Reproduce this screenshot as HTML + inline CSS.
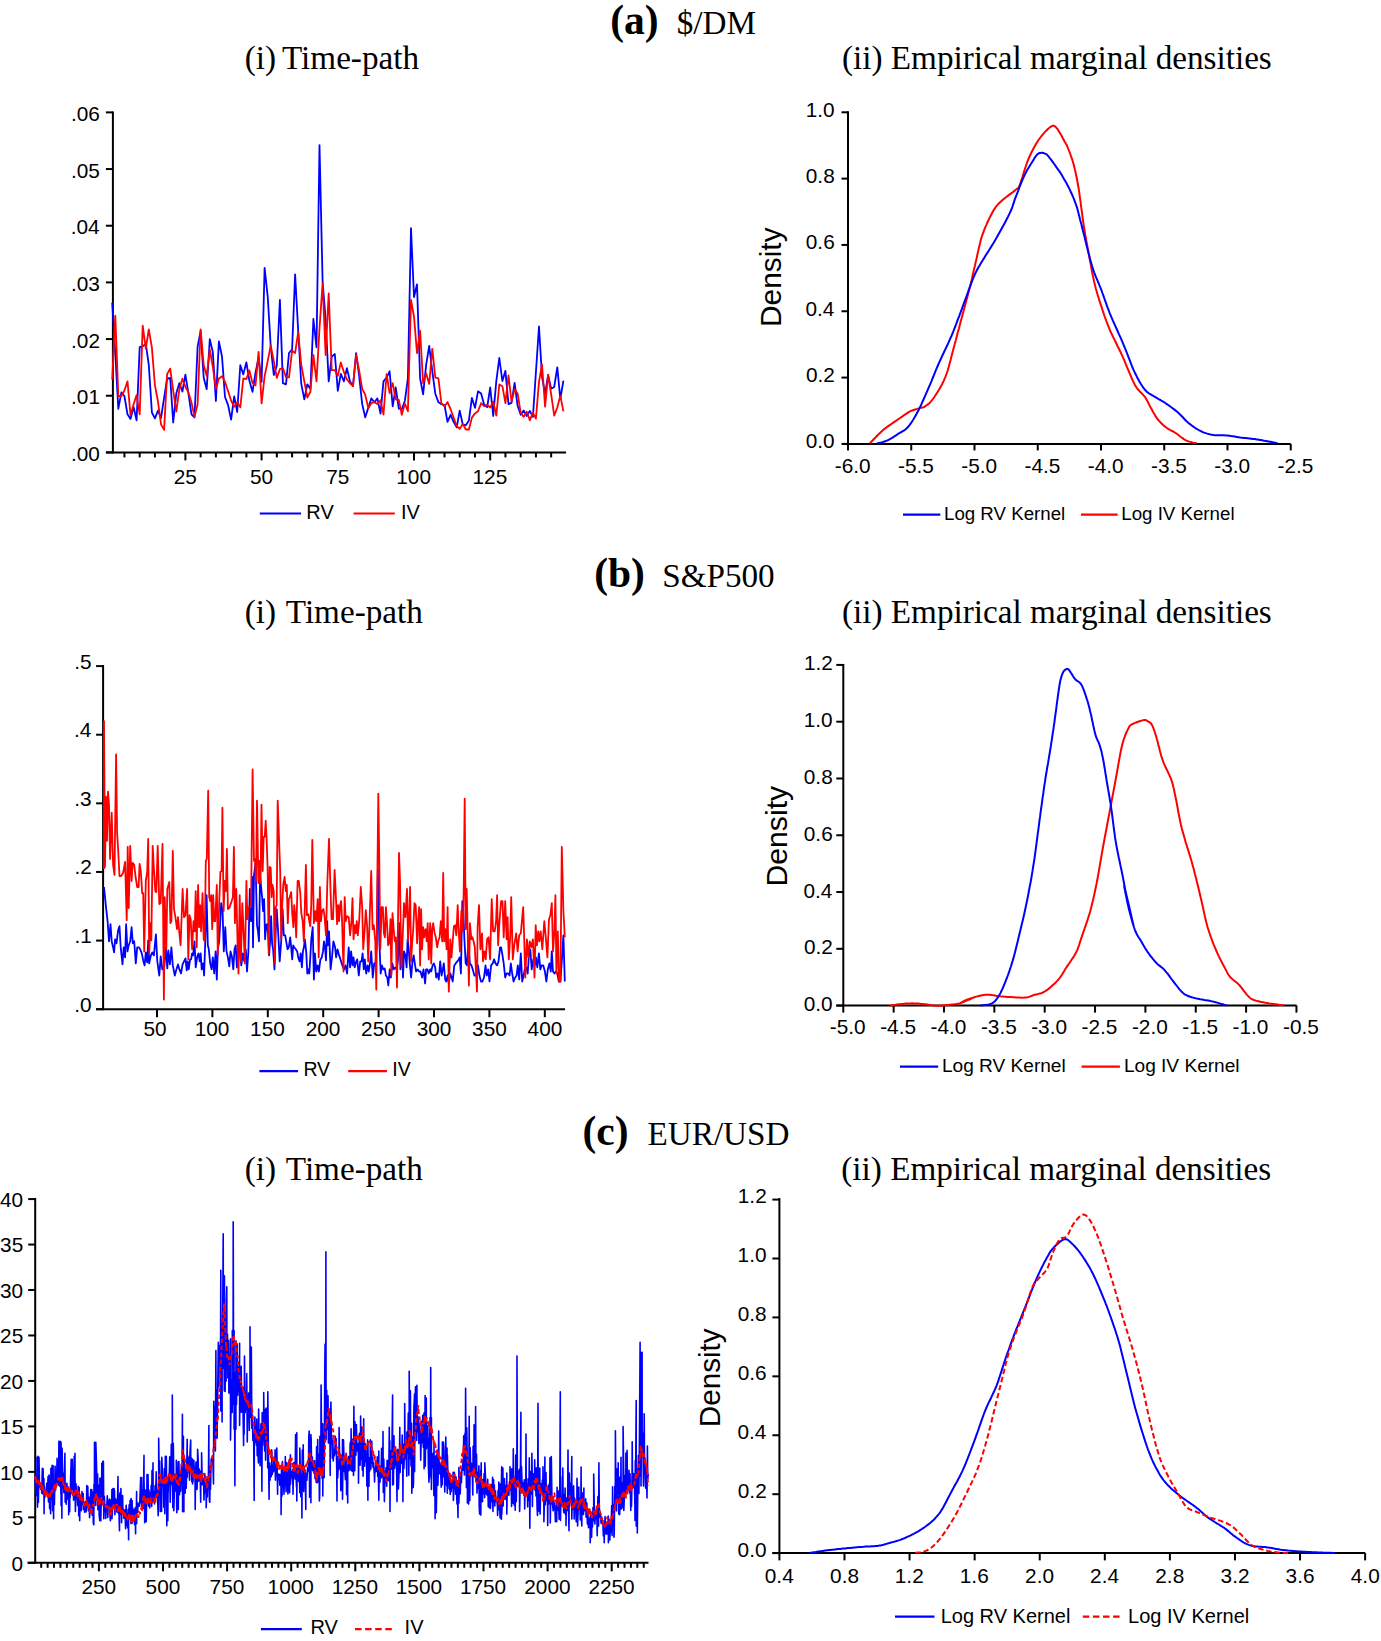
<!DOCTYPE html>
<html><head><meta charset="utf-8"><style>
html,body{margin:0;padding:0;background:#fff;width:1381px;height:1641px;overflow:hidden}
svg{display:block}
</style></head><body>
<svg width="1381" height="1641" viewBox="0 0 1381 1641">
<rect width="1381" height="1641" fill="#fff"/>
<text x="610.2" y="34.0" font-family="'Liberation Serif', serif" font-size="41.5" text-anchor="start" font-weight="bold" >(a)</text>
<text x="676.7" y="34.0" font-family="'Liberation Serif', serif" font-size="33.2" text-anchor="start" font-weight="normal" >$/DM</text>
<text x="594.2" y="587.4" font-family="'Liberation Serif', serif" font-size="41.5" text-anchor="start" font-weight="bold" >(b)</text>
<text x="662.2" y="587.4" font-family="'Liberation Serif', serif" font-size="33.2" text-anchor="start" font-weight="normal" >S&amp;P500</text>
<text x="582.5" y="1145.0" font-family="'Liberation Serif', serif" font-size="41.5" text-anchor="start" font-weight="bold" >(c)</text>
<text x="647.5" y="1145.0" font-family="'Liberation Serif', serif" font-size="33.2" text-anchor="start" font-weight="normal" >EUR/USD</text>
<text x="244.7" y="68.8" font-family="'Liberation Serif', serif" font-size="33.2" text-anchor="start" font-weight="normal" >(i)</text>
<text x="282.0" y="68.8" font-family="'Liberation Serif', serif" font-size="33.2" text-anchor="start" font-weight="normal" >Time-path</text>
<text x="244.7" y="622.7" font-family="'Liberation Serif', serif" font-size="33.2" text-anchor="start" font-weight="normal" >(i)</text>
<text x="285.8" y="622.7" font-family="'Liberation Serif', serif" font-size="33.2" text-anchor="start" font-weight="normal" >Time-path</text>
<text x="244.7" y="1180.3" font-family="'Liberation Serif', serif" font-size="33.2" text-anchor="start" font-weight="normal" >(i)</text>
<text x="285.8" y="1180.3" font-family="'Liberation Serif', serif" font-size="33.2" text-anchor="start" font-weight="normal" >Time-path</text>
<text x="842.0" y="68.8" font-family="'Liberation Serif', serif" font-size="33.2" text-anchor="start" font-weight="normal" >(ii) Empirical marginal densities</text>
<text x="842.0" y="622.5" font-family="'Liberation Serif', serif" font-size="33.2" text-anchor="start" font-weight="normal" >(ii) Empirical marginal densities</text>
<text x="841.3" y="1180.3" font-family="'Liberation Serif', serif" font-size="33.2" text-anchor="start" font-weight="normal" >(ii) Empirical marginal densities</text>
<line x1="112.90" y1="111.40" x2="112.90" y2="453.40" stroke="#000" stroke-width="2" />
<line x1="106.00" y1="452.40" x2="566.00" y2="452.40" stroke="#000" stroke-width="2" />
<line x1="105.90" y1="452.40" x2="112.90" y2="452.40" stroke="#000" stroke-width="2" />
<text x="70.9" y="460.9" font-family="'Liberation Sans', sans-serif" font-size="20.8" text-anchor="start" font-weight="normal" >.00</text>
<line x1="105.90" y1="395.73" x2="112.90" y2="395.73" stroke="#000" stroke-width="2" />
<text x="71.1" y="404.2" font-family="'Liberation Sans', sans-serif" font-size="20.8" text-anchor="start" font-weight="normal" >.01</text>
<line x1="105.90" y1="339.06" x2="112.90" y2="339.06" stroke="#000" stroke-width="2" />
<text x="71.1" y="347.6" font-family="'Liberation Sans', sans-serif" font-size="20.8" text-anchor="start" font-weight="normal" >.02</text>
<line x1="105.90" y1="282.39" x2="112.90" y2="282.39" stroke="#000" stroke-width="2" />
<text x="71.0" y="290.9" font-family="'Liberation Sans', sans-serif" font-size="20.8" text-anchor="start" font-weight="normal" >.03</text>
<line x1="105.90" y1="225.72" x2="112.90" y2="225.72" stroke="#000" stroke-width="2" />
<text x="70.7" y="234.2" font-family="'Liberation Sans', sans-serif" font-size="20.8" text-anchor="start" font-weight="normal" >.04</text>
<line x1="105.90" y1="169.05" x2="112.90" y2="169.05" stroke="#000" stroke-width="2" />
<text x="71.0" y="177.5" font-family="'Liberation Sans', sans-serif" font-size="20.8" text-anchor="start" font-weight="normal" >.05</text>
<line x1="105.90" y1="112.38" x2="112.90" y2="112.38" stroke="#000" stroke-width="2" />
<text x="71.0" y="120.9" font-family="'Liberation Sans', sans-serif" font-size="20.8" text-anchor="start" font-weight="normal" >.06</text>
<line x1="124.44" y1="452.40" x2="124.44" y2="457.40" stroke="#000" stroke-width="2" />
<line x1="139.68" y1="452.40" x2="139.68" y2="457.40" stroke="#000" stroke-width="2" />
<line x1="154.92" y1="452.40" x2="154.92" y2="457.40" stroke="#000" stroke-width="2" />
<line x1="170.16" y1="452.40" x2="170.16" y2="457.40" stroke="#000" stroke-width="2" />
<line x1="200.64" y1="452.40" x2="200.64" y2="457.40" stroke="#000" stroke-width="2" />
<line x1="215.88" y1="452.40" x2="215.88" y2="457.40" stroke="#000" stroke-width="2" />
<line x1="231.12" y1="452.40" x2="231.12" y2="457.40" stroke="#000" stroke-width="2" />
<line x1="246.36" y1="452.40" x2="246.36" y2="457.40" stroke="#000" stroke-width="2" />
<line x1="276.84" y1="452.40" x2="276.84" y2="457.40" stroke="#000" stroke-width="2" />
<line x1="292.08" y1="452.40" x2="292.08" y2="457.40" stroke="#000" stroke-width="2" />
<line x1="307.32" y1="452.40" x2="307.32" y2="457.40" stroke="#000" stroke-width="2" />
<line x1="322.56" y1="452.40" x2="322.56" y2="457.40" stroke="#000" stroke-width="2" />
<line x1="353.04" y1="452.40" x2="353.04" y2="457.40" stroke="#000" stroke-width="2" />
<line x1="368.28" y1="452.40" x2="368.28" y2="457.40" stroke="#000" stroke-width="2" />
<line x1="383.52" y1="452.40" x2="383.52" y2="457.40" stroke="#000" stroke-width="2" />
<line x1="398.76" y1="452.40" x2="398.76" y2="457.40" stroke="#000" stroke-width="2" />
<line x1="429.24" y1="452.40" x2="429.24" y2="457.40" stroke="#000" stroke-width="2" />
<line x1="444.48" y1="452.40" x2="444.48" y2="457.40" stroke="#000" stroke-width="2" />
<line x1="459.72" y1="452.40" x2="459.72" y2="457.40" stroke="#000" stroke-width="2" />
<line x1="474.96" y1="452.40" x2="474.96" y2="457.40" stroke="#000" stroke-width="2" />
<line x1="505.44" y1="452.40" x2="505.44" y2="457.40" stroke="#000" stroke-width="2" />
<line x1="520.68" y1="452.40" x2="520.68" y2="457.40" stroke="#000" stroke-width="2" />
<line x1="535.92" y1="452.40" x2="535.92" y2="457.40" stroke="#000" stroke-width="2" />
<line x1="551.16" y1="452.40" x2="551.16" y2="457.40" stroke="#000" stroke-width="2" />
<line x1="185.40" y1="452.40" x2="185.40" y2="460.40" stroke="#000" stroke-width="2" />
<text x="173.8" y="484.1" font-family="'Liberation Sans', sans-serif" font-size="20.8" text-anchor="start" font-weight="normal" >25</text>
<line x1="261.60" y1="452.40" x2="261.60" y2="460.40" stroke="#000" stroke-width="2" />
<text x="250.0" y="484.1" font-family="'Liberation Sans', sans-serif" font-size="20.8" text-anchor="start" font-weight="normal" >50</text>
<line x1="337.80" y1="452.40" x2="337.80" y2="460.40" stroke="#000" stroke-width="2" />
<text x="326.2" y="484.1" font-family="'Liberation Sans', sans-serif" font-size="20.8" text-anchor="start" font-weight="normal" >75</text>
<line x1="414.00" y1="452.40" x2="414.00" y2="460.40" stroke="#000" stroke-width="2" />
<text x="396.3" y="484.1" font-family="'Liberation Sans', sans-serif" font-size="20.8" text-anchor="start" font-weight="normal" >100</text>
<line x1="490.20" y1="452.40" x2="490.20" y2="460.40" stroke="#000" stroke-width="2" />
<text x="472.5" y="484.1" font-family="'Liberation Sans', sans-serif" font-size="20.8" text-anchor="start" font-weight="normal" >125</text>
<line x1="103.10" y1="665.10" x2="103.10" y2="1010.20" stroke="#000" stroke-width="2" />
<line x1="96.00" y1="1009.20" x2="565.00" y2="1009.20" stroke="#000" stroke-width="2" />
<line x1="96.10" y1="1009.20" x2="103.10" y2="1009.20" stroke="#000" stroke-width="2" />
<text x="74.2" y="1011.6" font-family="'Liberation Sans', sans-serif" font-size="20.8" text-anchor="start" font-weight="normal" >.0</text>
<line x1="96.10" y1="940.58" x2="103.10" y2="940.58" stroke="#000" stroke-width="2" />
<text x="74.4" y="943.0" font-family="'Liberation Sans', sans-serif" font-size="20.8" text-anchor="start" font-weight="normal" >.1</text>
<line x1="96.10" y1="871.96" x2="103.10" y2="871.96" stroke="#000" stroke-width="2" />
<text x="74.4" y="874.4" font-family="'Liberation Sans', sans-serif" font-size="20.8" text-anchor="start" font-weight="normal" >.2</text>
<line x1="96.10" y1="803.34" x2="103.10" y2="803.34" stroke="#000" stroke-width="2" />
<text x="74.3" y="805.7" font-family="'Liberation Sans', sans-serif" font-size="20.8" text-anchor="start" font-weight="normal" >.3</text>
<line x1="96.10" y1="734.72" x2="103.10" y2="734.72" stroke="#000" stroke-width="2" />
<text x="74.0" y="737.1" font-family="'Liberation Sans', sans-serif" font-size="20.8" text-anchor="start" font-weight="normal" >.4</text>
<line x1="96.10" y1="666.10" x2="103.10" y2="666.10" stroke="#000" stroke-width="2" />
<text x="74.3" y="668.5" font-family="'Liberation Sans', sans-serif" font-size="20.8" text-anchor="start" font-weight="normal" >.5</text>
<line x1="157.00" y1="1009.20" x2="157.00" y2="1017.20" stroke="#000" stroke-width="2" />
<text x="143.4" y="1036.1" font-family="'Liberation Sans', sans-serif" font-size="20.8" text-anchor="start" font-weight="normal" >50</text>
<line x1="212.40" y1="1009.20" x2="212.40" y2="1017.20" stroke="#000" stroke-width="2" />
<text x="194.7" y="1036.1" font-family="'Liberation Sans', sans-serif" font-size="20.8" text-anchor="start" font-weight="normal" >100</text>
<line x1="267.80" y1="1009.20" x2="267.80" y2="1017.20" stroke="#000" stroke-width="2" />
<text x="250.1" y="1036.1" font-family="'Liberation Sans', sans-serif" font-size="20.8" text-anchor="start" font-weight="normal" >150</text>
<line x1="323.20" y1="1009.20" x2="323.20" y2="1017.20" stroke="#000" stroke-width="2" />
<text x="305.7" y="1036.1" font-family="'Liberation Sans', sans-serif" font-size="20.8" text-anchor="start" font-weight="normal" >200</text>
<line x1="378.60" y1="1009.20" x2="378.60" y2="1017.20" stroke="#000" stroke-width="2" />
<text x="361.1" y="1036.1" font-family="'Liberation Sans', sans-serif" font-size="20.8" text-anchor="start" font-weight="normal" >250</text>
<line x1="434.00" y1="1009.20" x2="434.00" y2="1017.20" stroke="#000" stroke-width="2" />
<text x="416.7" y="1036.1" font-family="'Liberation Sans', sans-serif" font-size="20.8" text-anchor="start" font-weight="normal" >300</text>
<line x1="489.40" y1="1009.20" x2="489.40" y2="1017.20" stroke="#000" stroke-width="2" />
<text x="472.1" y="1036.1" font-family="'Liberation Sans', sans-serif" font-size="20.8" text-anchor="start" font-weight="normal" >350</text>
<line x1="544.80" y1="1009.20" x2="544.80" y2="1017.20" stroke="#000" stroke-width="2" />
<text x="527.6" y="1036.1" font-family="'Liberation Sans', sans-serif" font-size="20.8" text-anchor="start" font-weight="normal" >400</text>
<line x1="35.20" y1="1198.10" x2="35.20" y2="1563.80" stroke="#000" stroke-width="2" />
<line x1="27.50" y1="1562.80" x2="648.50" y2="1562.80" stroke="#000" stroke-width="2" />
<line x1="28.20" y1="1562.80" x2="35.20" y2="1562.80" stroke="#000" stroke-width="2" />
<text x="11.6" y="1570.5" font-family="'Liberation Sans', sans-serif" font-size="20.8" text-anchor="start" font-weight="normal" >0</text>
<line x1="28.20" y1="1517.34" x2="35.20" y2="1517.34" stroke="#000" stroke-width="2" />
<text x="11.7" y="1525.0" font-family="'Liberation Sans', sans-serif" font-size="20.8" text-anchor="start" font-weight="normal" >5</text>
<line x1="28.20" y1="1471.87" x2="35.20" y2="1471.87" stroke="#000" stroke-width="2" />
<text x="0.0" y="1479.6" font-family="'Liberation Sans', sans-serif" font-size="20.8" text-anchor="start" font-weight="normal" >10</text>
<line x1="28.20" y1="1426.40" x2="35.20" y2="1426.40" stroke="#000" stroke-width="2" />
<text x="0.1" y="1434.1" font-family="'Liberation Sans', sans-serif" font-size="20.8" text-anchor="start" font-weight="normal" >15</text>
<line x1="28.20" y1="1380.94" x2="35.20" y2="1380.94" stroke="#000" stroke-width="2" />
<text x="0.0" y="1388.6" font-family="'Liberation Sans', sans-serif" font-size="20.8" text-anchor="start" font-weight="normal" >20</text>
<line x1="28.20" y1="1335.47" x2="35.20" y2="1335.47" stroke="#000" stroke-width="2" />
<text x="0.1" y="1343.2" font-family="'Liberation Sans', sans-serif" font-size="20.8" text-anchor="start" font-weight="normal" >25</text>
<line x1="28.20" y1="1290.01" x2="35.20" y2="1290.01" stroke="#000" stroke-width="2" />
<text x="0.0" y="1297.7" font-family="'Liberation Sans', sans-serif" font-size="20.8" text-anchor="start" font-weight="normal" >30</text>
<line x1="28.20" y1="1244.55" x2="35.20" y2="1244.55" stroke="#000" stroke-width="2" />
<text x="0.1" y="1252.2" font-family="'Liberation Sans', sans-serif" font-size="20.8" text-anchor="start" font-weight="normal" >35</text>
<line x1="28.20" y1="1199.08" x2="35.20" y2="1199.08" stroke="#000" stroke-width="2" />
<text x="0.0" y="1206.8" font-family="'Liberation Sans', sans-serif" font-size="20.8" text-anchor="start" font-weight="normal" >40</text>
<line x1="41.21" y1="1562.80" x2="41.21" y2="1567.80" stroke="#000" stroke-width="2" />
<line x1="47.62" y1="1562.80" x2="47.62" y2="1567.80" stroke="#000" stroke-width="2" />
<line x1="54.03" y1="1562.80" x2="54.03" y2="1567.80" stroke="#000" stroke-width="2" />
<line x1="60.44" y1="1562.80" x2="60.44" y2="1567.80" stroke="#000" stroke-width="2" />
<line x1="66.85" y1="1562.80" x2="66.85" y2="1567.80" stroke="#000" stroke-width="2" />
<line x1="73.26" y1="1562.80" x2="73.26" y2="1567.80" stroke="#000" stroke-width="2" />
<line x1="79.67" y1="1562.80" x2="79.67" y2="1567.80" stroke="#000" stroke-width="2" />
<line x1="86.08" y1="1562.80" x2="86.08" y2="1567.80" stroke="#000" stroke-width="2" />
<line x1="92.49" y1="1562.80" x2="92.49" y2="1567.80" stroke="#000" stroke-width="2" />
<line x1="105.31" y1="1562.80" x2="105.31" y2="1567.80" stroke="#000" stroke-width="2" />
<line x1="111.72" y1="1562.80" x2="111.72" y2="1567.80" stroke="#000" stroke-width="2" />
<line x1="118.13" y1="1562.80" x2="118.13" y2="1567.80" stroke="#000" stroke-width="2" />
<line x1="124.54" y1="1562.80" x2="124.54" y2="1567.80" stroke="#000" stroke-width="2" />
<line x1="130.95" y1="1562.80" x2="130.95" y2="1567.80" stroke="#000" stroke-width="2" />
<line x1="137.36" y1="1562.80" x2="137.36" y2="1567.80" stroke="#000" stroke-width="2" />
<line x1="143.77" y1="1562.80" x2="143.77" y2="1567.80" stroke="#000" stroke-width="2" />
<line x1="150.18" y1="1562.80" x2="150.18" y2="1567.80" stroke="#000" stroke-width="2" />
<line x1="156.59" y1="1562.80" x2="156.59" y2="1567.80" stroke="#000" stroke-width="2" />
<line x1="169.41" y1="1562.80" x2="169.41" y2="1567.80" stroke="#000" stroke-width="2" />
<line x1="175.82" y1="1562.80" x2="175.82" y2="1567.80" stroke="#000" stroke-width="2" />
<line x1="182.23" y1="1562.80" x2="182.23" y2="1567.80" stroke="#000" stroke-width="2" />
<line x1="188.64" y1="1562.80" x2="188.64" y2="1567.80" stroke="#000" stroke-width="2" />
<line x1="195.05" y1="1562.80" x2="195.05" y2="1567.80" stroke="#000" stroke-width="2" />
<line x1="201.46" y1="1562.80" x2="201.46" y2="1567.80" stroke="#000" stroke-width="2" />
<line x1="207.87" y1="1562.80" x2="207.87" y2="1567.80" stroke="#000" stroke-width="2" />
<line x1="214.28" y1="1562.80" x2="214.28" y2="1567.80" stroke="#000" stroke-width="2" />
<line x1="220.69" y1="1562.80" x2="220.69" y2="1567.80" stroke="#000" stroke-width="2" />
<line x1="233.51" y1="1562.80" x2="233.51" y2="1567.80" stroke="#000" stroke-width="2" />
<line x1="239.92" y1="1562.80" x2="239.92" y2="1567.80" stroke="#000" stroke-width="2" />
<line x1="246.33" y1="1562.80" x2="246.33" y2="1567.80" stroke="#000" stroke-width="2" />
<line x1="252.74" y1="1562.80" x2="252.74" y2="1567.80" stroke="#000" stroke-width="2" />
<line x1="259.15" y1="1562.80" x2="259.15" y2="1567.80" stroke="#000" stroke-width="2" />
<line x1="265.56" y1="1562.80" x2="265.56" y2="1567.80" stroke="#000" stroke-width="2" />
<line x1="271.97" y1="1562.80" x2="271.97" y2="1567.80" stroke="#000" stroke-width="2" />
<line x1="278.38" y1="1562.80" x2="278.38" y2="1567.80" stroke="#000" stroke-width="2" />
<line x1="284.79" y1="1562.80" x2="284.79" y2="1567.80" stroke="#000" stroke-width="2" />
<line x1="297.61" y1="1562.80" x2="297.61" y2="1567.80" stroke="#000" stroke-width="2" />
<line x1="304.02" y1="1562.80" x2="304.02" y2="1567.80" stroke="#000" stroke-width="2" />
<line x1="310.43" y1="1562.80" x2="310.43" y2="1567.80" stroke="#000" stroke-width="2" />
<line x1="316.84" y1="1562.80" x2="316.84" y2="1567.80" stroke="#000" stroke-width="2" />
<line x1="323.25" y1="1562.80" x2="323.25" y2="1567.80" stroke="#000" stroke-width="2" />
<line x1="329.66" y1="1562.80" x2="329.66" y2="1567.80" stroke="#000" stroke-width="2" />
<line x1="336.07" y1="1562.80" x2="336.07" y2="1567.80" stroke="#000" stroke-width="2" />
<line x1="342.48" y1="1562.80" x2="342.48" y2="1567.80" stroke="#000" stroke-width="2" />
<line x1="348.89" y1="1562.80" x2="348.89" y2="1567.80" stroke="#000" stroke-width="2" />
<line x1="361.71" y1="1562.80" x2="361.71" y2="1567.80" stroke="#000" stroke-width="2" />
<line x1="368.12" y1="1562.80" x2="368.12" y2="1567.80" stroke="#000" stroke-width="2" />
<line x1="374.53" y1="1562.80" x2="374.53" y2="1567.80" stroke="#000" stroke-width="2" />
<line x1="380.94" y1="1562.80" x2="380.94" y2="1567.80" stroke="#000" stroke-width="2" />
<line x1="387.35" y1="1562.80" x2="387.35" y2="1567.80" stroke="#000" stroke-width="2" />
<line x1="393.76" y1="1562.80" x2="393.76" y2="1567.80" stroke="#000" stroke-width="2" />
<line x1="400.17" y1="1562.80" x2="400.17" y2="1567.80" stroke="#000" stroke-width="2" />
<line x1="406.58" y1="1562.80" x2="406.58" y2="1567.80" stroke="#000" stroke-width="2" />
<line x1="412.99" y1="1562.80" x2="412.99" y2="1567.80" stroke="#000" stroke-width="2" />
<line x1="425.81" y1="1562.80" x2="425.81" y2="1567.80" stroke="#000" stroke-width="2" />
<line x1="432.22" y1="1562.80" x2="432.22" y2="1567.80" stroke="#000" stroke-width="2" />
<line x1="438.63" y1="1562.80" x2="438.63" y2="1567.80" stroke="#000" stroke-width="2" />
<line x1="445.04" y1="1562.80" x2="445.04" y2="1567.80" stroke="#000" stroke-width="2" />
<line x1="451.45" y1="1562.80" x2="451.45" y2="1567.80" stroke="#000" stroke-width="2" />
<line x1="457.86" y1="1562.80" x2="457.86" y2="1567.80" stroke="#000" stroke-width="2" />
<line x1="464.27" y1="1562.80" x2="464.27" y2="1567.80" stroke="#000" stroke-width="2" />
<line x1="470.68" y1="1562.80" x2="470.68" y2="1567.80" stroke="#000" stroke-width="2" />
<line x1="477.09" y1="1562.80" x2="477.09" y2="1567.80" stroke="#000" stroke-width="2" />
<line x1="489.91" y1="1562.80" x2="489.91" y2="1567.80" stroke="#000" stroke-width="2" />
<line x1="496.32" y1="1562.80" x2="496.32" y2="1567.80" stroke="#000" stroke-width="2" />
<line x1="502.73" y1="1562.80" x2="502.73" y2="1567.80" stroke="#000" stroke-width="2" />
<line x1="509.14" y1="1562.80" x2="509.14" y2="1567.80" stroke="#000" stroke-width="2" />
<line x1="515.55" y1="1562.80" x2="515.55" y2="1567.80" stroke="#000" stroke-width="2" />
<line x1="521.96" y1="1562.80" x2="521.96" y2="1567.80" stroke="#000" stroke-width="2" />
<line x1="528.37" y1="1562.80" x2="528.37" y2="1567.80" stroke="#000" stroke-width="2" />
<line x1="534.78" y1="1562.80" x2="534.78" y2="1567.80" stroke="#000" stroke-width="2" />
<line x1="541.19" y1="1562.80" x2="541.19" y2="1567.80" stroke="#000" stroke-width="2" />
<line x1="554.01" y1="1562.80" x2="554.01" y2="1567.80" stroke="#000" stroke-width="2" />
<line x1="560.42" y1="1562.80" x2="560.42" y2="1567.80" stroke="#000" stroke-width="2" />
<line x1="566.83" y1="1562.80" x2="566.83" y2="1567.80" stroke="#000" stroke-width="2" />
<line x1="573.24" y1="1562.80" x2="573.24" y2="1567.80" stroke="#000" stroke-width="2" />
<line x1="579.65" y1="1562.80" x2="579.65" y2="1567.80" stroke="#000" stroke-width="2" />
<line x1="586.06" y1="1562.80" x2="586.06" y2="1567.80" stroke="#000" stroke-width="2" />
<line x1="592.47" y1="1562.80" x2="592.47" y2="1567.80" stroke="#000" stroke-width="2" />
<line x1="598.88" y1="1562.80" x2="598.88" y2="1567.80" stroke="#000" stroke-width="2" />
<line x1="605.29" y1="1562.80" x2="605.29" y2="1567.80" stroke="#000" stroke-width="2" />
<line x1="618.11" y1="1562.80" x2="618.11" y2="1567.80" stroke="#000" stroke-width="2" />
<line x1="624.52" y1="1562.80" x2="624.52" y2="1567.80" stroke="#000" stroke-width="2" />
<line x1="630.93" y1="1562.80" x2="630.93" y2="1567.80" stroke="#000" stroke-width="2" />
<line x1="637.34" y1="1562.80" x2="637.34" y2="1567.80" stroke="#000" stroke-width="2" />
<line x1="643.75" y1="1562.80" x2="643.75" y2="1567.80" stroke="#000" stroke-width="2" />
<line x1="98.90" y1="1562.80" x2="98.90" y2="1571.30" stroke="#000" stroke-width="2" />
<text x="81.4" y="1593.7" font-family="'Liberation Sans', sans-serif" font-size="20.8" text-anchor="start" font-weight="normal" >250</text>
<line x1="163.00" y1="1562.80" x2="163.00" y2="1571.30" stroke="#000" stroke-width="2" />
<text x="145.6" y="1593.7" font-family="'Liberation Sans', sans-serif" font-size="20.8" text-anchor="start" font-weight="normal" >500</text>
<line x1="227.10" y1="1562.80" x2="227.10" y2="1571.30" stroke="#000" stroke-width="2" />
<text x="209.6" y="1593.7" font-family="'Liberation Sans', sans-serif" font-size="20.8" text-anchor="start" font-weight="normal" >750</text>
<line x1="291.20" y1="1562.80" x2="291.20" y2="1571.30" stroke="#000" stroke-width="2" />
<text x="267.6" y="1593.7" font-family="'Liberation Sans', sans-serif" font-size="20.8" text-anchor="start" font-weight="normal" >1000</text>
<line x1="355.30" y1="1562.80" x2="355.30" y2="1571.30" stroke="#000" stroke-width="2" />
<text x="331.7" y="1593.7" font-family="'Liberation Sans', sans-serif" font-size="20.8" text-anchor="start" font-weight="normal" >1250</text>
<line x1="419.40" y1="1562.80" x2="419.40" y2="1571.30" stroke="#000" stroke-width="2" />
<text x="395.8" y="1593.7" font-family="'Liberation Sans', sans-serif" font-size="20.8" text-anchor="start" font-weight="normal" >1500</text>
<line x1="483.50" y1="1562.80" x2="483.50" y2="1571.30" stroke="#000" stroke-width="2" />
<text x="459.9" y="1593.7" font-family="'Liberation Sans', sans-serif" font-size="20.8" text-anchor="start" font-weight="normal" >1750</text>
<line x1="547.60" y1="1562.80" x2="547.60" y2="1571.30" stroke="#000" stroke-width="2" />
<text x="524.3" y="1593.7" font-family="'Liberation Sans', sans-serif" font-size="20.8" text-anchor="start" font-weight="normal" >2000</text>
<line x1="611.70" y1="1562.80" x2="611.70" y2="1571.30" stroke="#000" stroke-width="2" />
<text x="588.4" y="1593.7" font-family="'Liberation Sans', sans-serif" font-size="20.8" text-anchor="start" font-weight="normal" >2250</text>
<line x1="848.00" y1="111.30" x2="848.00" y2="444.90" stroke="#000" stroke-width="2" />
<line x1="842.00" y1="443.90" x2="1290.80" y2="443.90" stroke="#000" stroke-width="2" />
<line x1="841.50" y1="443.90" x2="848.00" y2="443.90" stroke="#000" stroke-width="2" />
<text x="805.7" y="448.3" font-family="'Liberation Sans', sans-serif" font-size="20.8" text-anchor="start" font-weight="normal" >0.0</text>
<line x1="841.50" y1="377.58" x2="848.00" y2="377.58" stroke="#000" stroke-width="2" />
<text x="805.9" y="382.0" font-family="'Liberation Sans', sans-serif" font-size="20.8" text-anchor="start" font-weight="normal" >0.2</text>
<line x1="841.50" y1="311.26" x2="848.00" y2="311.26" stroke="#000" stroke-width="2" />
<text x="805.5" y="315.7" font-family="'Liberation Sans', sans-serif" font-size="20.8" text-anchor="start" font-weight="normal" >0.4</text>
<line x1="841.50" y1="244.94" x2="848.00" y2="244.94" stroke="#000" stroke-width="2" />
<text x="805.8" y="249.3" font-family="'Liberation Sans', sans-serif" font-size="20.8" text-anchor="start" font-weight="normal" >0.6</text>
<line x1="841.50" y1="178.62" x2="848.00" y2="178.62" stroke="#000" stroke-width="2" />
<text x="805.8" y="183.0" font-family="'Liberation Sans', sans-serif" font-size="20.8" text-anchor="start" font-weight="normal" >0.8</text>
<line x1="841.50" y1="112.30" x2="848.00" y2="112.30" stroke="#000" stroke-width="2" />
<text x="805.7" y="116.7" font-family="'Liberation Sans', sans-serif" font-size="20.8" text-anchor="start" font-weight="normal" >1.0</text>
<line x1="848.00" y1="443.90" x2="848.00" y2="450.40" stroke="#000" stroke-width="2" />
<text x="834.8" y="473.0" font-family="'Liberation Sans', sans-serif" font-size="20.8" text-anchor="start" font-weight="normal" >-6.0</text>
<line x1="911.25" y1="443.90" x2="911.25" y2="450.40" stroke="#000" stroke-width="2" />
<text x="898.1" y="473.0" font-family="'Liberation Sans', sans-serif" font-size="20.8" text-anchor="start" font-weight="normal" >-5.5</text>
<line x1="974.50" y1="443.90" x2="974.50" y2="450.40" stroke="#000" stroke-width="2" />
<text x="961.3" y="473.0" font-family="'Liberation Sans', sans-serif" font-size="20.8" text-anchor="start" font-weight="normal" >-5.0</text>
<line x1="1037.75" y1="443.90" x2="1037.75" y2="450.40" stroke="#000" stroke-width="2" />
<text x="1024.6" y="473.0" font-family="'Liberation Sans', sans-serif" font-size="20.8" text-anchor="start" font-weight="normal" >-4.5</text>
<line x1="1101.00" y1="443.90" x2="1101.00" y2="450.40" stroke="#000" stroke-width="2" />
<text x="1087.8" y="473.0" font-family="'Liberation Sans', sans-serif" font-size="20.8" text-anchor="start" font-weight="normal" >-4.0</text>
<line x1="1164.25" y1="443.90" x2="1164.25" y2="450.40" stroke="#000" stroke-width="2" />
<text x="1151.1" y="473.0" font-family="'Liberation Sans', sans-serif" font-size="20.8" text-anchor="start" font-weight="normal" >-3.5</text>
<line x1="1227.50" y1="443.90" x2="1227.50" y2="450.40" stroke="#000" stroke-width="2" />
<text x="1214.3" y="473.0" font-family="'Liberation Sans', sans-serif" font-size="20.8" text-anchor="start" font-weight="normal" >-3.0</text>
<line x1="1290.75" y1="443.90" x2="1290.75" y2="450.40" stroke="#000" stroke-width="2" />
<text x="1277.6" y="473.0" font-family="'Liberation Sans', sans-serif" font-size="20.8" text-anchor="start" font-weight="normal" >-2.5</text>
<text x="0" y="0" font-family="'Liberation Sans', sans-serif" font-size="29.86" transform="translate(780.75,326.99) rotate(-90)">Density</text>
<line x1="843.30" y1="664.10" x2="843.30" y2="1006.60" stroke="#000" stroke-width="2" />
<line x1="836.30" y1="1005.60" x2="1296.60" y2="1005.60" stroke="#000" stroke-width="2" />
<line x1="836.30" y1="1005.60" x2="843.30" y2="1005.60" stroke="#000" stroke-width="2" />
<text x="803.7" y="1011.1" font-family="'Liberation Sans', sans-serif" font-size="20.8" text-anchor="start" font-weight="normal" >0.0</text>
<line x1="836.30" y1="948.82" x2="843.30" y2="948.82" stroke="#000" stroke-width="2" />
<text x="803.9" y="954.3" font-family="'Liberation Sans', sans-serif" font-size="20.8" text-anchor="start" font-weight="normal" >0.2</text>
<line x1="836.30" y1="892.04" x2="843.30" y2="892.04" stroke="#000" stroke-width="2" />
<text x="803.5" y="897.5" font-family="'Liberation Sans', sans-serif" font-size="20.8" text-anchor="start" font-weight="normal" >0.4</text>
<line x1="836.30" y1="835.26" x2="843.30" y2="835.26" stroke="#000" stroke-width="2" />
<text x="803.8" y="840.8" font-family="'Liberation Sans', sans-serif" font-size="20.8" text-anchor="start" font-weight="normal" >0.6</text>
<line x1="836.30" y1="778.48" x2="843.30" y2="778.48" stroke="#000" stroke-width="2" />
<text x="803.8" y="784.0" font-family="'Liberation Sans', sans-serif" font-size="20.8" text-anchor="start" font-weight="normal" >0.8</text>
<line x1="836.30" y1="721.70" x2="843.30" y2="721.70" stroke="#000" stroke-width="2" />
<text x="803.7" y="727.2" font-family="'Liberation Sans', sans-serif" font-size="20.8" text-anchor="start" font-weight="normal" >1.0</text>
<line x1="836.30" y1="664.92" x2="843.30" y2="664.92" stroke="#000" stroke-width="2" />
<text x="803.9" y="670.4" font-family="'Liberation Sans', sans-serif" font-size="20.8" text-anchor="start" font-weight="normal" >1.2</text>
<line x1="843.30" y1="1005.60" x2="843.30" y2="1012.60" stroke="#000" stroke-width="2" />
<text x="829.8" y="1033.9" font-family="'Liberation Sans', sans-serif" font-size="20.8" text-anchor="start" font-weight="normal" >-5.0</text>
<line x1="893.65" y1="1005.60" x2="893.65" y2="1012.60" stroke="#000" stroke-width="2" />
<text x="880.2" y="1033.9" font-family="'Liberation Sans', sans-serif" font-size="20.8" text-anchor="start" font-weight="normal" >-4.5</text>
<line x1="944.00" y1="1005.60" x2="944.00" y2="1012.60" stroke="#000" stroke-width="2" />
<text x="930.5" y="1033.9" font-family="'Liberation Sans', sans-serif" font-size="20.8" text-anchor="start" font-weight="normal" >-4.0</text>
<line x1="994.35" y1="1005.60" x2="994.35" y2="1012.60" stroke="#000" stroke-width="2" />
<text x="980.9" y="1033.9" font-family="'Liberation Sans', sans-serif" font-size="20.8" text-anchor="start" font-weight="normal" >-3.5</text>
<line x1="1044.70" y1="1005.60" x2="1044.70" y2="1012.60" stroke="#000" stroke-width="2" />
<text x="1031.2" y="1033.9" font-family="'Liberation Sans', sans-serif" font-size="20.8" text-anchor="start" font-weight="normal" >-3.0</text>
<line x1="1095.05" y1="1005.60" x2="1095.05" y2="1012.60" stroke="#000" stroke-width="2" />
<text x="1081.6" y="1033.9" font-family="'Liberation Sans', sans-serif" font-size="20.8" text-anchor="start" font-weight="normal" >-2.5</text>
<line x1="1145.40" y1="1005.60" x2="1145.40" y2="1012.60" stroke="#000" stroke-width="2" />
<text x="1131.9" y="1033.9" font-family="'Liberation Sans', sans-serif" font-size="20.8" text-anchor="start" font-weight="normal" >-2.0</text>
<line x1="1195.75" y1="1005.60" x2="1195.75" y2="1012.60" stroke="#000" stroke-width="2" />
<text x="1182.3" y="1033.9" font-family="'Liberation Sans', sans-serif" font-size="20.8" text-anchor="start" font-weight="normal" >-1.5</text>
<line x1="1246.10" y1="1005.60" x2="1246.10" y2="1012.60" stroke="#000" stroke-width="2" />
<text x="1232.6" y="1033.9" font-family="'Liberation Sans', sans-serif" font-size="20.8" text-anchor="start" font-weight="normal" >-1.0</text>
<line x1="1296.45" y1="1005.60" x2="1296.45" y2="1012.60" stroke="#000" stroke-width="2" />
<text x="1283.0" y="1033.9" font-family="'Liberation Sans', sans-serif" font-size="20.8" text-anchor="start" font-weight="normal" >-0.5</text>
<text x="0" y="0" font-family="'Liberation Sans', sans-serif" font-size="30.20" transform="translate(786.79,886.52) rotate(-90)">Density</text>
<line x1="779.40" y1="1198.00" x2="779.40" y2="1554.10" stroke="#000" stroke-width="2" />
<line x1="772.40" y1="1553.10" x2="1365.30" y2="1553.10" stroke="#000" stroke-width="2" />
<line x1="772.40" y1="1553.10" x2="779.40" y2="1553.10" stroke="#000" stroke-width="2" />
<text x="737.6" y="1556.9" font-family="'Liberation Sans', sans-serif" font-size="20.8" text-anchor="start" font-weight="normal" >0.0</text>
<line x1="772.40" y1="1494.18" x2="779.40" y2="1494.18" stroke="#000" stroke-width="2" />
<text x="737.8" y="1498.0" font-family="'Liberation Sans', sans-serif" font-size="20.8" text-anchor="start" font-weight="normal" >0.2</text>
<line x1="772.40" y1="1435.26" x2="779.40" y2="1435.26" stroke="#000" stroke-width="2" />
<text x="737.4" y="1439.1" font-family="'Liberation Sans', sans-serif" font-size="20.8" text-anchor="start" font-weight="normal" >0.4</text>
<line x1="772.40" y1="1376.34" x2="779.40" y2="1376.34" stroke="#000" stroke-width="2" />
<text x="737.7" y="1380.1" font-family="'Liberation Sans', sans-serif" font-size="20.8" text-anchor="start" font-weight="normal" >0.6</text>
<line x1="772.40" y1="1317.42" x2="779.40" y2="1317.42" stroke="#000" stroke-width="2" />
<text x="737.7" y="1321.2" font-family="'Liberation Sans', sans-serif" font-size="20.8" text-anchor="start" font-weight="normal" >0.8</text>
<line x1="772.40" y1="1258.50" x2="779.40" y2="1258.50" stroke="#000" stroke-width="2" />
<text x="737.6" y="1262.3" font-family="'Liberation Sans', sans-serif" font-size="20.8" text-anchor="start" font-weight="normal" >1.0</text>
<line x1="772.40" y1="1199.58" x2="779.40" y2="1199.58" stroke="#000" stroke-width="2" />
<text x="737.8" y="1203.4" font-family="'Liberation Sans', sans-serif" font-size="20.8" text-anchor="start" font-weight="normal" >1.2</text>
<line x1="779.40" y1="1553.10" x2="779.40" y2="1560.40" stroke="#000" stroke-width="2" />
<text x="764.8" y="1582.9" font-family="'Liberation Sans', sans-serif" font-size="20.8" text-anchor="start" font-weight="normal" >0.4</text>
<line x1="844.48" y1="1553.10" x2="844.48" y2="1560.40" stroke="#000" stroke-width="2" />
<text x="830.1" y="1582.9" font-family="'Liberation Sans', sans-serif" font-size="20.8" text-anchor="start" font-weight="normal" >0.8</text>
<line x1="909.56" y1="1553.10" x2="909.56" y2="1560.40" stroke="#000" stroke-width="2" />
<text x="894.8" y="1582.9" font-family="'Liberation Sans', sans-serif" font-size="20.8" text-anchor="start" font-weight="normal" >1.2</text>
<line x1="974.64" y1="1553.10" x2="974.64" y2="1560.40" stroke="#000" stroke-width="2" />
<text x="959.8" y="1582.9" font-family="'Liberation Sans', sans-serif" font-size="20.8" text-anchor="start" font-weight="normal" >1.6</text>
<line x1="1039.72" y1="1553.10" x2="1039.72" y2="1560.40" stroke="#000" stroke-width="2" />
<text x="1025.1" y="1582.9" font-family="'Liberation Sans', sans-serif" font-size="20.8" text-anchor="start" font-weight="normal" >2.0</text>
<line x1="1104.80" y1="1553.10" x2="1104.80" y2="1560.40" stroke="#000" stroke-width="2" />
<text x="1090.1" y="1582.9" font-family="'Liberation Sans', sans-serif" font-size="20.8" text-anchor="start" font-weight="normal" >2.4</text>
<line x1="1169.88" y1="1553.10" x2="1169.88" y2="1560.40" stroke="#000" stroke-width="2" />
<text x="1155.3" y="1582.9" font-family="'Liberation Sans', sans-serif" font-size="20.8" text-anchor="start" font-weight="normal" >2.8</text>
<line x1="1234.96" y1="1553.10" x2="1234.96" y2="1560.40" stroke="#000" stroke-width="2" />
<text x="1220.6" y="1582.9" font-family="'Liberation Sans', sans-serif" font-size="20.8" text-anchor="start" font-weight="normal" >3.2</text>
<line x1="1300.04" y1="1553.10" x2="1300.04" y2="1560.40" stroke="#000" stroke-width="2" />
<text x="1285.6" y="1582.9" font-family="'Liberation Sans', sans-serif" font-size="20.8" text-anchor="start" font-weight="normal" >3.6</text>
<line x1="1365.12" y1="1553.10" x2="1365.12" y2="1560.40" stroke="#000" stroke-width="2" />
<text x="1350.8" y="1582.9" font-family="'Liberation Sans', sans-serif" font-size="20.8" text-anchor="start" font-weight="normal" >4.0</text>
<text x="0" y="0" font-family="'Liberation Sans', sans-serif" font-size="29.65" transform="translate(719.69,1427.17) rotate(-90)">Density</text>
<line x1="259.80" y1="513.50" x2="301.00" y2="513.50" stroke="#0000ff" stroke-width="2.2" />
<text x="306.3" y="518.9" font-family="'Liberation Sans', sans-serif" font-size="20" text-anchor="start" font-weight="normal" >RV</text>
<line x1="353.50" y1="513.50" x2="394.80" y2="513.50" stroke="#ff0000" stroke-width="2.2" />
<text x="401.0" y="518.9" font-family="'Liberation Sans', sans-serif" font-size="20" text-anchor="start" font-weight="normal" >IV</text>
<line x1="259.40" y1="1071.10" x2="298.10" y2="1071.10" stroke="#0000ff" stroke-width="2.2" />
<text x="303.4" y="1076.1" font-family="'Liberation Sans', sans-serif" font-size="19.5" text-anchor="start" font-weight="normal" >RV</text>
<line x1="348.20" y1="1071.10" x2="386.90" y2="1071.10" stroke="#ff0000" stroke-width="2.2" />
<text x="392.3" y="1076.1" font-family="'Liberation Sans', sans-serif" font-size="19.5" text-anchor="start" font-weight="normal" >IV</text>
<line x1="260.90" y1="1629.20" x2="301.80" y2="1629.20" stroke="#0000ff" stroke-width="2.2" />
<text x="310.4" y="1634.0" font-family="'Liberation Sans', sans-serif" font-size="20" text-anchor="start" font-weight="normal" >RV</text>
<line x1="355.00" y1="1629.20" x2="393.80" y2="1629.20" stroke="#ff0000" stroke-width="2.2" stroke-dasharray="6.5,3.6"/>
<text x="404.6" y="1634.0" font-family="'Liberation Sans', sans-serif" font-size="20" text-anchor="start" font-weight="normal" >IV</text>
<line x1="903.00" y1="514.60" x2="940.30" y2="514.60" stroke="#0000ff" stroke-width="2.2" />
<text x="944.0" y="519.8" font-family="'Liberation Sans', sans-serif" font-size="18.7" text-anchor="start" font-weight="normal" >Log RV Kernel</text>
<line x1="1081.00" y1="514.60" x2="1117.60" y2="514.60" stroke="#ff0000" stroke-width="2.2" />
<text x="1121.3" y="519.8" font-family="'Liberation Sans', sans-serif" font-size="18.7" text-anchor="start" font-weight="normal" >Log IV Kernel</text>
<line x1="899.90" y1="1066.60" x2="938.20" y2="1066.60" stroke="#0000ff" stroke-width="2.2" />
<text x="941.9" y="1071.9" font-family="'Liberation Sans', sans-serif" font-size="19.1" text-anchor="start" font-weight="normal" >Log RV Kernel</text>
<line x1="1081.60" y1="1066.60" x2="1119.90" y2="1066.60" stroke="#ff0000" stroke-width="2.2" />
<text x="1123.9" y="1071.9" font-family="'Liberation Sans', sans-serif" font-size="19.1" text-anchor="start" font-weight="normal" >Log IV Kernel</text>
<line x1="895.00" y1="1616.70" x2="934.50" y2="1616.70" stroke="#0000ff" stroke-width="2.2" />
<text x="940.7" y="1623.0" font-family="'Liberation Sans', sans-serif" font-size="20" text-anchor="start" font-weight="normal" >Log RV Kernel</text>
<line x1="1082.80" y1="1616.70" x2="1120.40" y2="1616.70" stroke="#ff0000" stroke-width="2.2" stroke-dasharray="6.5,3.6"/>
<text x="1128.1" y="1623.0" font-family="'Liberation Sans', sans-serif" font-size="20" text-anchor="start" font-weight="normal" >Log IV Kernel</text>
<polyline points="869.7,443.5 870.7,442.5 872.1,441.0 873.7,439.3 875.5,437.5 877.4,435.5 879.4,433.5 881.3,431.7 883.1,430.1 884.9,428.6 886.7,427.2 888.6,425.9 890.5,424.6 892.3,423.3 894.1,422.1 895.9,420.9 897.6,419.7 899.3,418.5 901.0,417.4 902.6,416.2 904.1,415.1 905.7,414.1 907.2,413.1 908.6,412.2 910.1,411.4 911.5,410.7 913.0,410.2 914.4,409.7 915.8,409.2 917.1,408.9 918.3,408.5 919.5,408.2 920.4,407.9 921.2,407.7 921.8,407.6 922.3,407.6 922.6,407.5 923.0,407.5 923.4,407.4 923.9,407.1 924.6,406.7 925.4,406.1 926.3,405.5 927.2,404.9 928.2,404.1 929.3,403.2 930.4,402.1 931.6,400.7 932.9,399.0 934.3,397.0 935.8,394.7 937.4,392.2 939.1,389.5 940.8,386.6 942.4,383.5 943.9,380.4 945.3,377.2 946.5,374.0 947.7,370.6 948.7,367.0 949.7,363.3 950.7,359.6 951.6,355.8 952.6,352.0 953.6,348.2 954.6,344.5 955.7,340.6 956.7,336.7 957.7,332.8 958.8,328.9 959.8,325.0 960.8,321.1 961.9,317.2 962.9,313.3 964.0,309.3 965.1,305.3 966.1,301.4 967.2,297.4 968.2,293.6 969.2,289.8 970.2,286.1 971.0,282.5 971.9,279.0 972.6,275.6 973.4,272.2 974.1,268.9 974.9,265.7 975.6,262.4 976.4,259.2 977.1,255.9 977.8,252.8 978.5,249.6 979.2,246.5 980.0,243.4 980.7,240.3 981.6,237.3 982.6,234.3 983.7,231.3 984.9,228.2 986.3,225.1 987.6,222.0 989.0,219.1 990.4,216.3 991.7,213.8 992.9,211.5 994.0,209.6 995.0,208.1 995.9,206.8 996.8,205.6 997.8,204.6 998.8,203.5 999.9,202.4 1001.2,201.2 1002.8,199.7 1004.7,198.2 1006.7,196.7 1008.7,195.1 1010.8,193.6 1012.7,192.2 1014.4,190.9 1015.7,189.8 1016.7,188.9 1017.4,188.5 1017.9,188.2 1018.2,188.0 1018.5,187.7 1018.8,187.1 1019.2,186.1 1019.9,184.6 1020.7,182.4 1021.6,179.6 1022.6,176.5 1023.6,173.1 1024.7,169.5 1025.9,166.0 1027.0,162.7 1028.2,159.7 1029.3,157.0 1030.6,154.3 1031.8,151.7 1033.1,149.2 1034.4,146.7 1035.7,144.4 1037.1,142.2 1038.5,140.0 1040.0,138.0 1041.6,135.9 1043.3,133.9 1045.0,131.9 1046.7,130.2 1048.2,128.7 1049.7,127.5 1051.0,126.6 1052.0,126.0 1052.9,125.7 1053.6,125.7 1054.3,125.9 1055.0,126.3 1055.6,126.9 1056.3,127.7 1057.2,128.6 1058.1,129.9 1059.2,131.7 1060.4,133.7 1061.6,135.8 1062.7,138.0 1063.8,140.0 1064.7,141.8 1065.5,143.1 1066.0,144.0 1066.3,144.4 1066.4,144.5 1066.5,144.5 1066.5,144.5 1066.6,144.7 1066.9,145.3 1067.3,146.3 1067.8,147.7 1068.5,149.5 1069.3,151.5 1070.2,153.7 1071.0,156.1 1071.9,158.6 1072.7,161.2 1073.5,163.9 1074.2,166.6 1074.8,169.3 1075.5,172.1 1076.1,175.1 1076.8,178.2 1077.4,181.5 1078.0,185.0 1078.7,188.8 1079.3,192.9 1079.9,197.4 1080.6,202.2 1081.2,207.2 1081.9,212.1 1082.5,217.0 1083.2,221.7 1083.8,226.1 1084.5,230.1 1085.1,233.9 1085.8,237.6 1086.4,241.2 1087.1,244.7 1087.7,248.2 1088.4,251.6 1089.0,255.1 1089.6,258.6 1090.3,262.0 1090.9,265.4 1091.5,268.8 1092.1,272.2 1092.8,275.5 1093.5,278.8 1094.2,282.0 1095.0,285.2 1095.8,288.4 1096.7,291.6 1097.6,294.7 1098.6,297.8 1099.5,300.9 1100.5,303.9 1101.5,306.9 1102.4,309.8 1103.4,312.7 1104.3,315.5 1105.3,318.2 1106.3,321.0 1107.4,323.8 1108.5,326.7 1109.7,329.7 1111.1,332.8 1112.7,336.1 1114.3,339.4 1116.0,342.8 1117.6,346.2 1119.3,349.5 1120.8,352.6 1122.2,355.6 1123.4,358.4 1124.6,361.1 1125.7,363.8 1126.7,366.3 1127.7,368.7 1128.6,371.0 1129.6,373.2 1130.5,375.3 1131.3,377.2 1132.1,379.0 1132.9,380.6 1133.6,382.2 1134.3,383.6 1135.0,385.0 1135.8,386.4 1136.7,387.7 1137.6,389.0 1138.7,390.2 1139.7,391.4 1140.8,392.4 1141.9,393.5 1143.0,394.6 1144.0,395.8 1145.0,397.0 1145.9,398.4 1146.7,399.8 1147.5,401.2 1148.2,402.7 1149.0,404.2 1149.7,405.6 1150.4,407.1 1151.2,408.4 1152.0,409.8 1152.7,411.2 1153.4,412.5 1154.2,413.8 1154.9,415.1 1155.7,416.4 1156.5,417.6 1157.4,418.8 1158.3,420.0 1159.3,421.1 1160.3,422.2 1161.3,423.2 1162.3,424.2 1163.4,425.2 1164.5,426.2 1165.7,427.1 1166.9,428.0 1168.1,428.8 1169.4,429.5 1170.8,430.3 1172.1,431.0 1173.4,431.7 1174.8,432.5 1176.1,433.3 1177.4,434.2 1178.7,435.2 1179.9,436.2 1181.2,437.2 1182.5,438.1 1183.8,439.1 1185.1,439.9 1186.4,440.6 1187.8,441.1 1189.3,441.6 1190.8,442.0 1192.3,442.4 1193.7,442.7 1194.9,442.9 1196.0,443.1 1196.8,443.3" fill="none" stroke="#ff0000" stroke-width="2.0" stroke-linejoin="round" />
<polyline points="876.9,443.5 877.7,443.3 878.8,443.1 880.1,442.7 881.5,442.4 883.0,442.0 884.5,441.5 885.9,441.0 887.3,440.4 888.6,439.8 889.9,439.1 891.2,438.4 892.5,437.6 893.8,436.8 895.1,435.9 896.4,435.1 897.6,434.2 898.9,433.4 900.2,432.7 901.5,432.0 902.8,431.2 904.1,430.4 905.4,429.5 906.7,428.3 908.0,427.0 909.3,425.4 910.6,423.6 911.9,421.7 913.2,419.7 914.5,417.5 915.8,415.2 917.1,412.8 918.4,410.4 919.7,407.9 921.0,405.2 922.2,402.4 923.5,399.5 924.8,396.6 926.1,393.6 927.4,390.6 928.7,387.6 930.0,384.6 931.3,381.6 932.5,378.5 933.8,375.4 935.0,372.3 936.3,369.2 937.7,366.0 939.1,362.7 940.6,359.5 942.1,356.2 943.7,352.8 945.3,349.4 946.9,346.0 948.5,342.6 950.0,339.2 951.5,335.8 952.9,332.5 954.2,329.2 955.5,326.0 956.7,322.7 957.9,319.4 959.2,316.1 960.5,312.5 961.9,308.9 963.3,304.9 964.9,300.7 966.5,296.3 968.1,291.8 969.7,287.4 971.3,283.1 972.8,279.2 974.3,275.7 975.7,272.7 977.0,270.0 978.3,267.6 979.6,265.4 980.9,263.3 982.1,261.3 983.4,259.2 984.7,257.1 985.9,255.0 987.2,253.0 988.4,251.2 989.6,249.3 990.8,247.4 992.1,245.3 993.5,243.1 995.0,240.5 996.7,237.6 998.5,234.3 1000.5,230.7 1002.5,227.0 1004.5,223.4 1006.4,219.8 1008.1,216.5 1009.5,213.6 1010.7,211.0 1011.6,208.8 1012.4,206.8 1013.0,204.9 1013.6,203.1 1014.2,201.2 1014.9,199.2 1015.7,197.0 1016.7,194.6 1017.7,192.0 1018.7,189.3 1019.7,186.5 1020.8,183.8 1021.9,181.1 1023.0,178.6 1024.0,176.3 1025.1,174.1 1026.1,172.1 1027.2,170.1 1028.3,168.3 1029.4,166.5 1030.4,164.8 1031.4,163.3 1032.3,161.8 1033.2,160.4 1034.0,159.1 1034.7,157.8 1035.5,156.7 1036.2,155.7 1036.9,154.8 1037.7,154.1 1038.5,153.5 1039.4,153.1 1040.3,152.9 1041.3,152.8 1042.2,152.8 1043.2,153.0 1044.1,153.2 1045.0,153.6 1045.8,153.9 1046.5,154.3 1047.1,154.9 1047.7,155.5 1048.3,156.1 1048.9,156.9 1049.5,157.8 1050.2,158.7 1051.0,159.7 1051.9,160.9 1053.0,162.4 1054.2,164.0 1055.4,165.7 1056.5,167.4 1057.6,168.9 1058.5,170.1 1059.2,171.1 1059.6,171.6 1059.8,171.8 1059.7,171.7 1059.6,171.5 1059.5,171.2 1059.5,171.2 1059.6,171.5 1060.0,172.2 1060.7,173.3 1061.6,174.8 1062.6,176.5 1063.7,178.5 1064.9,180.5 1066.1,182.6 1067.3,184.7 1068.3,186.7 1069.3,188.6 1070.2,190.6 1071.2,192.7 1072.1,194.7 1073.0,196.8 1073.9,198.9 1074.7,201.1 1075.5,203.3 1076.3,205.5 1077.0,207.6 1077.6,209.8 1078.2,212.1 1078.8,214.4 1079.4,216.8 1080.0,219.3 1080.7,221.9 1081.5,224.7 1082.2,227.7 1083.0,230.9 1083.8,234.1 1084.6,237.3 1085.4,240.6 1086.2,243.7 1086.9,246.8 1087.7,249.8 1088.4,252.7 1089.2,255.6 1089.9,258.4 1090.7,261.3 1091.5,264.1 1092.3,266.8 1093.2,269.6 1094.1,272.3 1095.1,274.9 1096.1,277.4 1097.2,279.9 1098.3,282.5 1099.3,285.0 1100.4,287.6 1101.5,290.3 1102.4,293.0 1103.4,295.6 1104.3,298.3 1105.2,300.9 1106.2,303.7 1107.2,306.6 1108.4,309.7 1109.7,313.1 1111.3,316.8 1113.0,320.8 1114.9,325.1 1116.9,329.5 1118.8,333.9 1120.8,338.2 1122.6,342.4 1124.2,346.3 1125.7,349.9 1127.1,353.5 1128.4,356.9 1129.7,360.2 1130.9,363.4 1132.1,366.5 1133.3,369.4 1134.6,372.2 1135.9,374.8 1137.2,377.4 1138.5,379.8 1139.8,382.2 1141.1,384.3 1142.4,386.3 1143.7,388.1 1145.0,389.8 1146.3,391.2 1147.6,392.4 1148.9,393.3 1150.2,394.1 1151.5,394.9 1152.7,395.5 1154.0,396.3 1155.3,397.0 1156.6,397.9 1157.9,398.6 1159.1,399.3 1160.4,400.0 1161.7,400.8 1163.0,401.5 1164.3,402.3 1165.7,403.3 1167.2,404.3 1168.7,405.4 1170.3,406.5 1171.9,407.7 1173.5,408.9 1175.1,410.1 1176.7,411.4 1178.1,412.6 1179.5,413.9 1180.8,415.2 1182.1,416.5 1183.3,417.8 1184.6,419.2 1185.8,420.5 1187.1,421.8 1188.5,423.0 1190.0,424.1 1191.5,425.3 1193.0,426.4 1194.6,427.5 1196.2,428.6 1197.8,429.5 1199.4,430.4 1200.9,431.2 1202.5,432.0 1204.0,432.6 1205.6,433.1 1207.2,433.6 1208.7,434.0 1210.3,434.4 1211.8,434.7 1213.4,435.0 1214.9,435.2 1216.4,435.3 1217.9,435.3 1219.5,435.3 1221.0,435.3 1222.5,435.2 1224.1,435.3 1225.8,435.4 1227.5,435.6 1229.3,435.8 1231.1,436.1 1232.9,436.3 1234.8,436.6 1236.6,436.9 1238.5,437.2 1240.3,437.5 1242.1,437.7 1244.0,437.9 1245.8,438.1 1247.7,438.3 1249.5,438.5 1251.3,438.7 1253.1,438.9 1254.8,439.1 1256.5,439.4 1258.1,439.6 1259.7,439.9 1261.3,440.1 1262.8,440.4 1264.3,440.7 1265.8,440.9 1267.3,441.2 1268.7,441.5 1270.2,441.8 1271.7,442.1 1273.2,442.4 1274.6,442.6 1275.8,442.9 1276.8,443.1 1277.6,443.3" fill="none" stroke="#0000ff" stroke-width="2.0" stroke-linejoin="round" />
<polyline points="889.9,1005.8 890.7,1005.6 891.7,1005.5 892.9,1005.2 894.2,1005.0 895.6,1004.8 897.1,1004.5 898.6,1004.3 900.0,1004.2 901.5,1004.0 902.9,1003.9 904.5,1003.7 906.0,1003.6 907.6,1003.5 909.1,1003.4 910.7,1003.4 912.2,1003.3 913.7,1003.4 915.2,1003.4 916.8,1003.5 918.3,1003.6 919.8,1003.7 921.3,1003.9 922.9,1004.0 924.4,1004.2 925.9,1004.3 927.4,1004.6 928.9,1004.8 930.5,1005.1 932.0,1005.3 933.5,1005.5 935.0,1005.7 936.5,1005.8 938.1,1005.8 939.6,1005.8 941.1,1005.7 942.6,1005.6 944.1,1005.5 945.7,1005.3 947.2,1005.1 948.7,1005.0 950.2,1004.8 951.7,1004.6 953.3,1004.4 954.8,1004.2 956.3,1004.0 957.8,1003.7 959.3,1003.4 960.9,1002.9 962.6,1002.4 964.5,1001.6 966.5,1000.7 968.5,999.8 970.3,999.0 971.8,998.3 972.7,997.8 973.0,997.7 972.5,997.9 971.0,998.5 969.0,999.4 966.7,1000.4 964.4,1001.5 962.3,1002.4 960.8,1003.0 960.0,1003.4 960.0,1003.3 960.4,1003.0 961.2,1002.5 962.4,1001.8 963.8,1001.1 965.3,1000.4 966.9,999.7 968.5,999.1 970.3,998.5 972.2,997.9 974.3,997.2 976.5,996.6 978.8,996.0 981.1,995.5 983.4,995.1 985.6,994.8 987.7,994.8 989.8,994.8 991.8,995.1 993.9,995.3 995.9,995.7 998.1,996.0 1000.3,996.3 1002.7,996.5 1005.2,996.7 1007.9,996.9 1010.8,997.1 1013.7,997.3 1016.6,997.5 1019.3,997.6 1021.8,997.7 1024.0,997.6 1025.8,997.4 1027.4,997.2 1028.8,996.9 1030.0,996.5 1031.1,996.1 1032.2,995.7 1033.4,995.2 1034.6,994.8 1036.0,994.5 1037.3,994.2 1038.5,993.9 1039.8,993.5 1041.2,993.2 1042.5,992.7 1043.9,992.0 1045.3,991.2 1046.8,990.2 1048.5,988.9 1050.1,987.6 1051.8,986.1 1053.5,984.6 1055.2,983.0 1056.7,981.4 1058.1,979.9 1059.4,978.4 1060.5,976.9 1061.6,975.3 1062.6,973.7 1063.5,972.1 1064.5,970.5 1065.5,968.8 1066.6,967.1 1067.8,965.3 1069.1,963.5 1070.3,961.7 1071.6,959.8 1072.9,957.9 1074.1,956.0 1075.2,954.1 1076.2,952.2 1077.1,950.4 1077.8,948.7 1078.4,947.0 1079.0,945.4 1079.5,943.6 1080.1,941.7 1080.8,939.6 1081.6,937.2 1082.5,934.6 1083.5,931.6 1084.6,928.5 1085.8,925.2 1086.9,921.9 1088.0,918.5 1089.1,915.0 1090.1,911.7 1091.0,908.3 1091.8,905.1 1092.6,901.8 1093.4,898.5 1094.2,895.0 1094.9,891.5 1095.7,887.8 1096.5,883.9 1097.3,879.8 1098.1,875.4 1098.9,870.9 1099.7,866.2 1100.5,861.5 1101.3,856.8 1102.1,852.2 1102.9,847.7 1103.7,843.3 1104.5,839.0 1105.3,834.7 1106.1,830.5 1106.9,826.3 1107.7,822.0 1108.5,817.8 1109.3,813.6 1110.1,809.3 1110.9,805.0 1111.7,800.8 1112.5,796.5 1113.3,792.2 1114.1,788.0 1114.9,783.7 1115.7,779.4 1116.5,775.0 1117.3,770.5 1118.1,765.9 1118.9,761.3 1119.7,756.9 1120.5,752.6 1121.3,748.8 1122.1,745.3 1122.9,742.3 1123.7,739.5 1124.6,737.1 1125.4,734.9 1126.2,733.0 1127.0,731.2 1127.8,729.6 1128.5,728.2 1129.1,727.1 1129.5,726.3 1130.0,725.7 1130.3,725.3 1130.8,725.0 1131.3,724.7 1131.9,724.4 1132.7,724.0 1133.8,723.4 1135.1,722.9 1136.6,722.3 1138.1,721.7 1139.6,721.2 1141.1,720.7 1142.4,720.4 1143.5,720.1 1144.3,720.0 1145.0,720.0 1145.5,720.1 1146.0,720.2 1146.4,720.4 1146.8,720.6 1147.2,720.9 1147.7,721.2 1148.3,721.5 1148.8,721.8 1149.3,722.1 1149.9,722.5 1150.4,722.9 1150.9,723.5 1151.5,724.2 1152.0,725.0 1152.5,726.1 1153.0,727.1 1153.5,728.4 1154.0,729.7 1154.5,731.2 1155.0,732.8 1155.6,734.7 1156.3,736.8 1156.9,739.2 1157.7,741.9 1158.4,744.9 1159.2,748.0 1160.0,751.2 1160.9,754.4 1161.7,757.4 1162.7,760.2 1163.6,762.9 1164.7,765.4 1165.9,767.8 1167.1,770.2 1168.2,772.6 1169.3,774.9 1170.3,777.2 1171.2,779.4 1171.9,781.6 1172.5,783.5 1173.0,785.3 1173.4,787.2 1173.9,789.1 1174.3,791.2 1174.8,793.7 1175.4,796.5 1176.1,799.7 1176.8,803.3 1177.5,807.2 1178.2,811.3 1179.0,815.5 1179.9,819.8 1180.8,824.2 1181.8,828.5 1183.0,832.8 1184.3,837.3 1185.6,841.9 1187.0,846.5 1188.5,851.1 1189.9,855.7 1191.3,860.3 1192.5,864.7 1193.7,869.1 1194.8,873.6 1196.0,878.0 1197.0,882.3 1198.1,886.6 1199.1,890.8 1200.1,894.9 1201.0,898.9 1201.9,902.7 1202.7,906.3 1203.5,909.9 1204.2,913.4 1205.0,916.8 1205.7,920.1 1206.6,923.4 1207.4,926.6 1208.4,929.7 1209.4,932.8 1210.4,935.8 1211.4,938.7 1212.5,941.6 1213.6,944.4 1214.8,947.2 1216.0,950.0 1217.2,952.9 1218.6,955.9 1220.1,958.9 1221.6,961.8 1223.0,964.6 1224.4,967.1 1225.6,969.4 1226.6,971.4 1227.4,972.9 1228.0,974.0 1228.5,974.8 1228.9,975.4 1229.3,975.9 1229.7,976.4 1230.2,977.0 1230.9,977.8 1231.8,978.6 1232.7,979.5 1233.8,980.3 1234.9,981.2 1236.0,982.1 1237.2,983.1 1238.3,984.1 1239.4,985.2 1240.5,986.5 1241.6,987.8 1242.7,989.3 1243.8,990.8 1244.9,992.2 1246.0,993.6 1247.0,994.8 1248.0,995.9 1248.8,996.7 1249.5,997.4 1250.1,998.0 1250.8,998.5 1251.4,998.9 1252.2,999.3 1253.2,999.7 1254.4,1000.2 1255.8,1000.6 1257.5,1001.1 1259.3,1001.5 1261.3,1001.9 1263.3,1002.3 1265.4,1002.7 1267.4,1003.0 1269.3,1003.4 1271.3,1003.7 1273.4,1004.0 1275.5,1004.3 1277.7,1004.6 1279.7,1004.9 1281.5,1005.1 1283.1,1005.3 1284.2,1005.5" fill="none" stroke="#ff0000" stroke-width="2.0" stroke-linejoin="round" />
<polyline points="980.3,1005.5 981.2,1005.4 982.5,1005.3 984.0,1005.1 985.7,1005.0 987.4,1004.7 989.1,1004.4 990.6,1003.9 992.0,1003.4 993.1,1002.7 994.2,1001.9 995.1,1001.0 996.0,1000.0 996.8,998.9 997.7,997.7 998.6,996.3 999.5,994.8 1000.4,993.1 1001.3,991.2 1002.3,989.1 1003.3,987.0 1004.2,984.7 1005.1,982.4 1006.0,980.1 1006.9,977.8 1007.8,975.5 1008.6,973.3 1009.4,971.0 1010.2,968.7 1011.0,966.3 1011.7,963.9 1012.5,961.3 1013.3,958.6 1014.1,955.7 1014.9,952.7 1015.7,949.5 1016.5,946.3 1017.3,943.0 1018.1,939.7 1018.9,936.3 1019.7,933.0 1020.5,929.7 1021.3,926.3 1022.1,923.0 1022.9,919.7 1023.7,916.2 1024.5,912.7 1025.3,909.0 1026.1,905.3 1026.9,901.3 1027.8,897.1 1028.6,892.7 1029.4,888.3 1030.3,883.9 1031.1,879.5 1031.8,875.2 1032.5,871.1 1033.1,867.2 1033.7,863.4 1034.3,859.7 1034.8,856.1 1035.3,852.4 1035.8,848.8 1036.3,845.1 1036.8,841.3 1037.3,837.4 1037.8,833.4 1038.4,829.3 1038.9,825.3 1039.4,821.2 1040.0,817.2 1040.5,813.2 1041.0,809.3 1041.6,805.4 1042.1,801.6 1042.6,797.7 1043.2,794.0 1043.7,790.2 1044.2,786.5 1044.8,782.9 1045.3,779.4 1045.8,776.0 1046.4,772.8 1046.9,769.6 1047.4,766.5 1048.0,763.4 1048.5,760.3 1049.0,757.1 1049.6,753.8 1050.1,750.4 1050.7,747.0 1051.2,743.4 1051.8,739.8 1052.3,736.3 1052.8,732.8 1053.4,729.4 1053.8,726.1 1054.3,723.0 1054.7,719.9 1055.1,716.9 1055.5,714.0 1055.9,711.1 1056.3,708.3 1056.6,705.5 1057.0,702.7 1057.4,699.8 1057.8,696.9 1058.2,694.0 1058.6,691.1 1059.0,688.4 1059.4,685.8 1059.8,683.4 1060.2,681.3 1060.6,679.5 1061.0,677.9 1061.4,676.6 1061.8,675.4 1062.2,674.3 1062.6,673.4 1063.0,672.5 1063.4,671.7 1063.9,671.0 1064.4,670.4 1065.0,669.9 1065.6,669.5 1066.1,669.2 1066.7,669.0 1067.2,668.9 1067.7,669.0 1068.1,669.1 1068.5,669.4 1068.9,669.8 1069.3,670.3 1069.7,670.9 1070.0,671.5 1070.5,672.1 1070.9,672.8 1071.4,673.5 1071.9,674.3 1072.4,675.1 1072.9,676.0 1073.4,676.8 1074.0,677.7 1074.6,678.5 1075.2,679.2 1075.8,679.8 1076.5,680.4 1077.2,680.9 1077.9,681.3 1078.6,681.8 1079.3,682.3 1079.9,682.8 1080.5,683.5 1081.0,684.1 1081.4,684.8 1081.8,685.4 1082.2,686.1 1082.5,686.9 1082.9,687.8 1083.3,688.7 1083.7,689.9 1084.2,691.2 1084.7,692.6 1085.3,694.2 1085.8,695.9 1086.4,697.6 1086.9,699.3 1087.5,701.0 1088.0,702.7 1088.4,704.2 1088.8,705.7 1089.2,707.2 1089.6,708.7 1089.9,710.2 1090.3,711.8 1090.7,713.5 1091.2,715.4 1091.6,717.6 1092.1,720.0 1092.7,722.6 1093.2,725.2 1093.8,727.8 1094.3,730.3 1094.9,732.6 1095.4,734.6 1096.0,736.4 1096.5,737.9 1097.1,739.2 1097.6,740.4 1098.2,741.5 1098.7,742.7 1099.2,743.9 1099.7,745.3 1100.1,746.7 1100.5,748.1 1100.9,749.4 1101.3,750.8 1101.7,752.3 1102.0,754.0 1102.4,755.9 1102.9,758.1 1103.4,760.7 1103.9,763.6 1104.4,766.8 1105.0,770.1 1105.5,773.5 1106.1,777.0 1106.6,780.4 1107.2,783.7 1107.7,786.8 1108.2,789.9 1108.8,793.0 1109.3,796.1 1109.8,799.2 1110.4,802.4 1110.9,805.8 1111.4,809.3 1111.9,813.0 1112.4,816.8 1112.9,820.8 1113.4,824.9 1113.9,829.0 1114.5,833.1 1115.0,837.2 1115.7,841.3 1116.4,845.3 1117.1,849.3 1117.9,853.3 1118.7,857.3 1119.6,861.3 1120.4,865.3 1121.3,869.3 1122.1,873.3 1122.9,877.3 1123.7,881.5 1124.5,885.7 1125.3,889.9 1126.2,894.0 1127.0,898.0 1127.7,901.8 1128.5,905.3 1129.3,908.9 1130.2,912.8 1131.2,916.8 1132.1,920.4 1132.9,923.6 1133.5,925.8 1133.9,926.9 1133.8,926.6 1133.2,924.1 1132.1,919.4 1130.7,913.2 1129.1,906.3 1127.5,899.4 1126.0,893.3 1124.9,888.6 1124.3,886.1 1124.1,885.8 1124.3,887.0 1124.8,889.5 1125.4,892.8 1126.2,896.6 1127.0,900.5 1127.8,904.2 1128.5,907.4 1129.2,910.2 1130.0,913.2 1130.8,916.2 1131.6,919.2 1132.4,922.1 1133.3,924.9 1134.1,927.5 1134.9,929.8 1135.7,931.8 1136.5,933.5 1137.3,935.0 1138.1,936.4 1138.9,937.7 1139.7,938.9 1140.5,940.2 1141.3,941.5 1142.1,942.9 1142.9,944.3 1143.6,945.6 1144.4,946.9 1145.2,948.2 1146.0,949.5 1146.8,950.8 1147.7,952.2 1148.7,953.5 1149.7,954.9 1150.8,956.3 1151.9,957.7 1153.0,959.1 1154.1,960.4 1155.2,961.7 1156.3,962.8 1157.3,963.9 1158.3,964.8 1159.4,965.6 1160.4,966.4 1161.4,967.2 1162.5,968.1 1163.6,969.1 1164.8,970.3 1166.0,971.8 1167.4,973.4 1168.7,975.2 1170.1,977.1 1171.5,979.0 1172.9,980.8 1174.2,982.6 1175.4,984.2 1176.6,985.6 1177.7,987.0 1178.7,988.3 1179.7,989.6 1180.7,990.7 1181.7,991.8 1182.8,992.8 1184.0,993.8 1185.2,994.6 1186.4,995.2 1187.6,995.8 1188.9,996.3 1190.2,996.8 1191.6,997.2 1193.1,997.6 1194.6,998.0 1196.3,998.4 1198.2,998.8 1200.2,999.2 1202.2,999.5 1204.3,999.9 1206.2,1000.2 1208.0,1000.5 1209.6,1000.8 1210.9,1001.1 1212.2,1001.4 1213.2,1001.6 1214.2,1001.9 1215.2,1002.1 1216.1,1002.4 1217.1,1002.6 1218.1,1002.9 1219.2,1003.2 1220.4,1003.6 1221.7,1004.0 1222.9,1004.3 1224.1,1004.7 1225.1,1005.0 1226.0,1005.3 1226.6,1005.5" fill="none" stroke="#0000ff" stroke-width="2.0" stroke-linejoin="round" />
<polyline points="809.3,1552.9 810.5,1552.7 812.0,1552.5 813.9,1552.2 815.9,1551.9 818.1,1551.5 820.4,1551.2 822.8,1550.9 825.1,1550.6 827.4,1550.3 829.9,1550.0 832.5,1549.7 835.1,1549.4 837.7,1549.1 840.3,1548.9 842.9,1548.6 845.4,1548.4 847.7,1548.1 850.1,1547.9 852.4,1547.7 854.7,1547.5 856.9,1547.3 859.1,1547.1 861.3,1546.9 863.4,1546.8 865.5,1546.6 867.6,1546.5 869.7,1546.4 871.7,1546.3 873.7,1546.2 875.6,1546.0 877.4,1545.9 879.2,1545.6 880.8,1545.4 882.3,1545.1 883.7,1544.7 885.1,1544.3 886.4,1543.9 887.7,1543.5 889.1,1543.1 890.4,1542.7 891.8,1542.3 893.2,1542.0 894.6,1541.6 895.9,1541.2 897.3,1540.8 898.7,1540.4 900.2,1539.9 901.7,1539.3 903.3,1538.7 905.0,1538.0 906.7,1537.2 908.5,1536.4 910.2,1535.6 912.0,1534.7 913.6,1533.9 915.2,1533.0 916.8,1532.2 918.3,1531.3 919.7,1530.4 921.1,1529.5 922.5,1528.6 923.9,1527.7 925.2,1526.8 926.5,1525.8 927.7,1524.9 929.0,1523.9 930.1,1523.0 931.3,1522.0 932.4,1521.0 933.5,1520.0 934.5,1519.0 935.5,1517.9 936.4,1516.9 937.3,1515.9 938.1,1515.0 938.9,1514.0 939.7,1512.9 940.5,1511.7 941.3,1510.4 942.3,1508.9 943.3,1507.2 944.3,1505.3 945.4,1503.3 946.5,1501.2 947.6,1499.0 948.8,1496.7 950.0,1494.4 951.3,1492.0 952.6,1489.6 953.9,1487.1 955.3,1484.6 956.8,1482.0 958.2,1479.3 959.7,1476.5 961.1,1473.6 962.6,1470.6 964.0,1467.4 965.4,1464.1 966.8,1460.7 968.2,1457.1 969.6,1453.5 971.0,1449.9 972.4,1446.2 973.8,1442.4 975.2,1438.6 976.6,1434.6 978.1,1430.5 979.5,1426.4 980.9,1422.4 982.3,1418.4 983.7,1414.5 985.1,1410.9 986.5,1407.5 988.0,1404.2 989.4,1401.2 990.9,1398.2 992.3,1395.2 993.7,1392.3 995.1,1389.2 996.4,1386.1 997.6,1382.8 998.8,1379.4 999.9,1376.0 1001.0,1372.6 1002.1,1369.1 1003.2,1365.7 1004.3,1362.3 1005.4,1359.0 1006.5,1355.8 1007.6,1352.6 1008.8,1349.5 1009.9,1346.4 1011.0,1343.3 1012.1,1340.2 1013.3,1337.2 1014.4,1334.2 1015.5,1331.4 1016.5,1328.7 1017.6,1326.1 1018.6,1323.5 1019.7,1320.9 1020.8,1318.1 1022.1,1315.0 1023.4,1311.7 1024.9,1307.9 1026.5,1303.8 1028.2,1299.4 1030.0,1294.8 1031.8,1290.2 1033.6,1285.8 1035.3,1281.7 1036.9,1277.9 1038.5,1274.4 1040.0,1271.2 1041.5,1268.0 1043.0,1265.1 1044.4,1262.3 1045.8,1259.8 1047.0,1257.5 1048.2,1255.4 1049.2,1253.6 1050.1,1252.1 1050.9,1250.9 1051.7,1249.9 1052.4,1249.0 1053.2,1248.2 1054.0,1247.3 1055.0,1246.3 1056.0,1245.3 1057.2,1244.2 1058.5,1243.0 1059.7,1241.9 1061.0,1241.0 1062.3,1240.1 1063.4,1239.5 1064.5,1239.2 1065.5,1239.1 1066.3,1239.2 1067.2,1239.5 1067.9,1240.0 1068.7,1240.6 1069.5,1241.3 1070.3,1242.1 1071.3,1243.0 1072.3,1243.9 1073.3,1244.9 1074.4,1246.0 1075.5,1247.2 1076.6,1248.5 1077.8,1249.9 1079.0,1251.4 1080.3,1253.1 1081.6,1255.0 1083.0,1257.0 1084.4,1259.1 1085.9,1261.4 1087.3,1263.7 1088.8,1266.2 1090.2,1268.6 1091.6,1271.2 1092.9,1273.8 1094.2,1276.5 1095.6,1279.4 1096.9,1282.3 1098.1,1285.2 1099.4,1288.1 1100.6,1291.0 1101.7,1293.7 1102.8,1296.3 1103.8,1298.8 1104.8,1301.2 1105.7,1303.6 1106.7,1306.0 1107.6,1308.5 1108.6,1311.2 1109.6,1314.0 1110.7,1317.0 1111.8,1320.1 1112.9,1323.3 1114.0,1326.6 1115.2,1330.0 1116.3,1333.5 1117.5,1337.2 1118.6,1341.1 1119.8,1345.1 1120.9,1349.5 1122.0,1353.9 1123.1,1358.5 1124.3,1363.2 1125.4,1367.9 1126.5,1372.6 1127.6,1377.1 1128.8,1381.7 1129.8,1386.2 1130.9,1390.7 1132.0,1395.2 1133.1,1399.7 1134.2,1404.2 1135.4,1408.7 1136.7,1413.2 1138.0,1417.8 1139.4,1422.6 1140.8,1427.4 1142.3,1432.2 1143.8,1436.9 1145.2,1441.4 1146.6,1445.5 1147.9,1449.3 1149.2,1452.6 1150.4,1455.6 1151.5,1458.4 1152.6,1460.9 1153.7,1463.2 1154.8,1465.4 1155.8,1467.5 1157.0,1469.6 1158.1,1471.6 1159.1,1473.5 1160.1,1475.2 1161.2,1476.9 1162.3,1478.4 1163.4,1480.0 1164.6,1481.5 1166.0,1483.1 1167.4,1484.7 1169.0,1486.3 1170.6,1487.9 1172.3,1489.5 1174.1,1491.0 1175.9,1492.5 1177.7,1494.0 1179.5,1495.5 1181.4,1497.0 1183.3,1498.4 1185.4,1499.8 1187.4,1501.2 1189.4,1502.6 1191.4,1504.0 1193.4,1505.4 1195.3,1506.8 1197.1,1508.2 1198.8,1509.6 1200.4,1511.1 1202.1,1512.5 1203.7,1513.9 1205.3,1515.3 1207.0,1516.7 1208.8,1518.1 1210.7,1519.4 1212.7,1520.7 1214.8,1522.0 1216.8,1523.3 1218.9,1524.5 1220.9,1525.8 1222.8,1527.0 1224.6,1528.2 1226.2,1529.4 1227.7,1530.6 1229.1,1531.7 1230.4,1532.9 1231.7,1534.0 1233.0,1535.1 1234.4,1536.2 1235.9,1537.2 1237.4,1538.3 1239.0,1539.4 1240.6,1540.5 1242.2,1541.6 1243.9,1542.6 1245.7,1543.6 1247.5,1544.4 1249.4,1545.1 1251.4,1545.7 1253.6,1546.1 1255.8,1546.4 1258.1,1546.6 1260.5,1546.7 1262.8,1546.9 1265.2,1547.1 1267.4,1547.4 1269.7,1547.7 1271.8,1548.1 1274.0,1548.5 1276.2,1548.9 1278.4,1549.3 1280.7,1549.7 1283.0,1550.0 1285.5,1550.3 1288.1,1550.6 1290.7,1550.8 1293.4,1551.0 1296.2,1551.2 1299.0,1551.4 1302.0,1551.6 1305.0,1551.7 1308.0,1551.9 1311.4,1552.1 1315.1,1552.2 1319.0,1552.4 1323.0,1552.6 1326.7,1552.7 1330.1,1552.8 1333.0,1552.9 1335.1,1553.0" fill="none" stroke="#0000ff" stroke-width="2.0" stroke-linejoin="round" />
<polyline points="915.2,1552.9 916.1,1552.7 917.3,1552.6 918.7,1552.4 920.3,1552.2 921.9,1551.9 923.6,1551.5 925.1,1551.1 926.5,1550.6 927.7,1550.0 928.9,1549.3 930.0,1548.6 931.1,1547.8 932.2,1546.9 933.3,1546.0 934.4,1544.9 935.5,1543.8 936.6,1542.7 937.7,1541.5 938.8,1540.2 939.9,1538.9 941.0,1537.5 942.1,1536.0 943.3,1534.3 944.5,1532.6 945.8,1530.7 947.2,1528.6 948.6,1526.5 950.0,1524.3 951.5,1521.9 952.9,1519.5 954.4,1517.1 955.8,1514.5 957.2,1512.0 958.6,1509.3 960.0,1506.5 961.4,1503.7 962.8,1500.8 964.2,1497.9 965.7,1495.0 967.1,1492.0 968.5,1489.0 969.9,1486.1 971.4,1483.1 972.8,1480.0 974.3,1476.9 975.7,1473.8 977.0,1470.5 978.3,1467.2 979.6,1463.8 980.8,1460.2 982.0,1456.5 983.1,1452.7 984.2,1448.9 985.3,1445.2 986.3,1441.5 987.3,1437.9 988.3,1434.4 989.2,1431.0 990.0,1427.6 990.9,1424.3 991.7,1420.9 992.5,1417.6 993.3,1414.2 994.1,1410.9 995.0,1407.5 995.8,1404.1 996.6,1400.7 997.5,1397.3 998.3,1394.0 999.2,1390.6 1000.0,1387.2 1000.9,1383.8 1001.7,1380.4 1002.6,1376.9 1003.4,1373.4 1004.3,1369.9 1005.1,1366.4 1005.9,1363.1 1006.8,1359.8 1007.6,1356.8 1008.5,1353.9 1009.3,1351.3 1010.1,1348.8 1010.9,1346.4 1011.7,1344.0 1012.5,1341.6 1013.4,1339.1 1014.4,1336.5 1015.4,1333.8 1016.5,1331.1 1017.6,1328.4 1018.8,1325.6 1019.9,1322.8 1021.1,1320.0 1022.3,1317.0 1023.4,1314.0 1024.6,1310.7 1025.7,1307.1 1026.9,1303.4 1028.1,1299.6 1029.2,1295.9 1030.3,1292.5 1031.4,1289.5 1032.4,1286.9 1033.4,1284.9 1034.2,1283.4 1035.1,1282.2 1035.9,1281.3 1036.7,1280.5 1037.5,1279.7 1038.3,1278.9 1039.2,1277.9 1040.1,1276.8 1041.1,1275.8 1042.2,1274.8 1043.2,1273.8 1044.2,1272.8 1045.2,1271.6 1046.2,1270.3 1047.1,1268.9 1047.9,1267.2 1048.6,1265.4 1049.3,1263.4 1050.0,1261.3 1050.6,1259.2 1051.3,1257.0 1052.0,1255.0 1052.7,1253.1 1053.5,1251.2 1054.3,1249.3 1055.1,1247.4 1056.0,1245.6 1056.8,1243.8 1057.7,1242.2 1058.6,1240.8 1059.5,1239.6 1060.4,1238.7 1061.3,1238.2 1062.2,1238.0 1063.1,1237.8 1064.0,1237.7 1065.0,1237.5 1065.9,1237.0 1066.8,1236.2 1067.6,1235.1 1068.4,1233.7 1069.2,1232.1 1070.0,1230.4 1070.9,1228.6 1071.7,1226.9 1072.6,1225.3 1073.5,1223.8 1074.6,1222.4 1075.7,1221.0 1076.8,1219.6 1078.0,1218.3 1079.2,1217.0 1080.4,1216.0 1081.5,1215.3 1082.5,1214.8 1083.5,1214.6 1084.4,1214.7 1085.2,1215.0 1086.0,1215.5 1086.8,1216.2 1087.6,1217.1 1088.4,1218.1 1089.3,1219.3 1090.2,1220.7 1091.2,1222.3 1092.2,1224.1 1093.2,1226.1 1094.2,1228.2 1095.2,1230.4 1096.2,1232.7 1097.2,1235.1 1098.2,1237.5 1099.2,1240.1 1100.1,1242.8 1101.1,1245.5 1102.1,1248.4 1103.0,1251.4 1104.1,1254.5 1105.1,1257.6 1106.2,1261.0 1107.3,1264.4 1108.4,1268.0 1109.5,1271.7 1110.7,1275.5 1111.8,1279.3 1113.0,1283.1 1114.1,1287.0 1115.2,1290.8 1116.4,1294.7 1117.5,1298.7 1118.6,1302.7 1119.8,1306.8 1120.9,1310.7 1122.0,1314.7 1123.1,1318.5 1124.3,1322.3 1125.4,1325.9 1126.5,1329.5 1127.6,1333.0 1128.8,1336.6 1129.9,1340.2 1131.0,1344.0 1132.2,1347.8 1133.3,1351.8 1134.4,1355.8 1135.5,1359.9 1136.7,1364.0 1137.8,1368.3 1138.9,1372.6 1140.0,1377.1 1141.2,1381.7 1142.3,1386.5 1143.4,1391.5 1144.6,1396.7 1145.7,1402.0 1146.8,1407.2 1147.9,1412.4 1149.1,1417.4 1150.2,1422.2 1151.3,1426.9 1152.4,1431.5 1153.6,1436.0 1154.7,1440.4 1155.8,1444.7 1157.0,1448.7 1158.1,1452.5 1159.2,1456.1 1160.3,1459.3 1161.5,1462.2 1162.6,1464.9 1163.7,1467.3 1164.8,1469.7 1166.0,1471.9 1167.1,1474.1 1168.2,1476.4 1169.4,1478.6 1170.5,1480.6 1171.6,1482.7 1172.7,1484.6 1173.9,1486.5 1175.0,1488.4 1176.1,1490.3 1177.2,1492.1 1178.4,1494.1 1179.5,1496.1 1180.6,1498.2 1181.8,1500.2 1182.9,1502.1 1184.0,1503.9 1185.1,1505.5 1186.3,1506.8 1187.4,1507.8 1188.4,1508.6 1189.5,1509.2 1190.5,1509.6 1191.6,1510.0 1192.7,1510.3 1193.9,1510.8 1195.3,1511.3 1196.8,1512.0 1198.4,1512.7 1200.0,1513.4 1201.8,1514.1 1203.5,1514.9 1205.3,1515.6 1207.1,1516.3 1208.8,1516.9 1210.5,1517.6 1212.3,1518.2 1214.1,1518.7 1215.9,1519.3 1217.6,1519.8 1219.3,1520.4 1220.9,1520.9 1222.3,1521.5 1223.7,1522.0 1224.9,1522.5 1226.1,1523.0 1227.1,1523.5 1228.2,1524.0 1229.2,1524.6 1230.3,1525.2 1231.4,1526.0 1232.5,1526.8 1233.6,1527.6 1234.6,1528.5 1235.7,1529.5 1236.8,1530.5 1238.0,1531.6 1239.1,1532.7 1240.4,1533.9 1241.7,1535.1 1243.0,1536.6 1244.4,1538.1 1245.9,1539.7 1247.3,1541.2 1248.8,1542.7 1250.2,1544.0 1251.7,1545.1 1253.1,1546.0 1254.4,1546.8 1255.8,1547.4 1257.2,1547.9 1258.5,1548.4 1260.0,1548.8 1261.4,1549.2 1262.9,1549.6 1264.5,1550.1 1266.2,1550.5 1267.8,1550.9 1269.6,1551.2 1271.3,1551.6 1273.0,1551.9 1274.8,1552.1 1276.5,1552.3 1278.2,1552.5 1280.2,1552.7 1282.1,1552.8 1284.1,1552.9 1285.9,1552.9 1287.6,1552.9 1288.9,1553.0 1290.0,1553.0" fill="none" stroke="#ff0000" stroke-width="2.0" stroke-linejoin="round" stroke-dasharray="5.5,2.8"/>
<polyline points="112.2,302.8 115.3,354.0 118.3,408.8 121.4,392.4 124.4,396.0 127.5,414.3 130.5,418.9 133.6,407.0 136.6,420.3 139.7,347.1 142.7,346.2 145.8,343.9 148.8,365.0 151.9,412.5 154.9,418.4 158.0,410.7 161.0,418.0 164.1,397.9 167.1,378.7 170.2,377.8 173.2,422.5 176.3,393.3 179.3,383.2 182.4,391.5 185.4,374.6 188.4,393.3 191.5,414.3 194.5,417.5 197.6,346.7 200.6,331.1 203.7,377.8 206.7,389.2 209.8,339.1 212.8,351.9 215.9,401.0 218.9,341.4 222.0,356.5 225.0,397.0 228.1,405.1 231.1,419.6 234.2,396.4 237.2,412.0 240.3,365.2 243.3,374.4 246.4,362.3 249.4,380.8 252.5,391.8 255.5,372.7 258.6,357.6 261.6,381.9 264.6,267.9 267.7,296.3 270.7,346.1 273.8,375.0 276.8,365.7 279.9,299.8 282.9,383.1 286.0,384.3 289.0,353.0 292.1,349.5 295.1,274.3 298.2,331.0 301.2,383.3 304.3,399.4 307.3,384.3 310.4,389.0 313.4,319.0 316.5,347.4 319.5,145.1 322.6,281.2 325.6,319.0 328.7,381.4 331.7,356.8 334.8,354.0 337.8,390.9 340.8,373.9 343.9,381.4 346.9,368.2 350.0,381.4 353.0,386.1 356.1,353.1 359.1,375.7 362.2,404.1 365.2,417.3 368.3,407.9 371.3,398.4 374.4,402.2 377.4,398.4 380.5,413.6 383.5,381.4 386.6,377.6 389.6,371.3 392.7,406.4 395.7,387.4 398.8,408.5 401.8,409.2 404.9,400.7 407.9,378.3 411.0,228.2 414.0,297.0 417.0,284.3 420.1,378.3 423.1,394.4 426.2,364.3 429.2,346.0 432.3,371.3 435.3,393.7 438.4,402.1 441.4,404.2 444.5,405.0 447.5,421.8 450.6,414.8 453.6,421.8 456.7,427.4 459.7,410.6 462.8,424.6 465.8,425.3 468.9,420.4 471.9,397.9 475.0,407.8 478.0,391.3 481.1,393.4 484.1,404.5 487.2,407.1 490.2,387.5 493.2,416.0 496.3,381.1 499.3,358.0 502.4,381.1 505.4,370.8 508.5,404.1 511.5,402.8 514.6,382.8 517.6,405.8 520.7,414.8 523.7,410.5 526.8,416.0 529.8,410.9 532.9,416.9 535.9,372.5 539.0,326.5 542.0,376.8 545.1,393.9 548.1,375.1 551.2,388.7 554.2,387.0 557.3,367.4 560.3,399.0 563.4,380.6" fill="none" stroke="#0000ff" stroke-width="1.8" stroke-linejoin="round" />
<polyline points="112.2,379.6 115.3,315.6 118.3,396.0 121.4,396.0 124.4,390.5 127.5,381.4 130.5,415.2 133.6,404.3 136.6,395.1 139.7,414.3 142.7,325.6 145.8,348.5 148.8,329.3 151.9,347.6 154.9,385.1 158.0,401.5 161.0,424.4 164.1,429.9 167.1,374.1 170.2,368.6 173.2,390.5 176.3,411.6 179.3,389.6 182.4,378.7 185.4,386.9 188.4,392.4 191.5,402.4 194.5,417.1 197.6,404.3 200.6,329.3 203.7,365.0 206.7,375.9 209.8,349.5 212.8,366.9 215.9,388.9 218.9,378.5 222.0,376.2 225.0,381.9 228.1,391.2 231.1,400.5 234.2,406.8 237.2,402.2 240.3,407.4 243.3,378.5 246.4,379.1 249.4,370.4 252.5,383.1 255.5,385.4 258.6,351.9 261.6,403.4 264.6,376.2 267.7,361.1 270.7,345.5 273.8,361.1 276.8,377.9 279.9,369.2 282.9,368.1 286.0,377.3 289.0,377.3 292.1,350.7 295.1,353.0 298.2,332.2 301.2,364.4 304.3,381.4 307.3,397.5 310.4,391.8 313.4,355.0 316.5,381.4 319.5,328.5 322.6,283.1 325.6,355.0 328.7,293.5 331.7,370.1 334.8,370.1 337.8,375.7 340.8,362.5 343.9,372.0 346.9,379.5 350.0,383.3 353.0,386.1 356.1,355.0 359.1,370.1 362.2,389.0 365.2,394.7 368.3,407.9 371.3,403.2 374.4,402.2 377.4,404.1 380.5,400.3 383.5,414.5 386.6,374.1 389.6,393.0 392.7,383.2 395.7,399.3 398.8,400.0 401.8,414.8 404.9,403.5 407.9,411.3 411.0,299.8 414.0,316.6 417.0,353.1 420.1,330.6 423.1,383.2 426.2,373.4 429.2,383.9 432.3,348.8 435.3,377.6 438.4,378.3 441.4,403.5 444.5,406.4 447.5,402.1 450.6,409.2 453.6,417.6 456.7,426.0 459.7,428.8 462.8,423.9 465.8,429.5 468.9,429.5 471.9,417.6 475.0,413.4 478.0,411.3 481.1,403.2 484.1,406.2 487.2,404.9 490.2,407.5 493.2,401.5 496.3,415.6 499.3,384.5 502.4,386.2 505.4,403.2 508.5,375.5 511.5,401.5 514.6,389.2 517.6,393.4 520.7,412.6 523.7,416.9 526.8,411.8 529.8,420.3 532.9,412.6 535.9,418.6 539.0,381.9 542.0,364.4 545.1,406.7 548.1,374.7 551.2,394.7 554.2,415.6 557.3,407.5 560.3,395.6 563.4,411.3" fill="none" stroke="#ff0000" stroke-width="1.8" stroke-linejoin="round" />
<polyline points="104.0,887.0 106.0,907.1 107.6,921.2 109.0,941.3 110.5,924.2 111.7,941.3 113.1,947.3 114.1,952.4 115.1,939.3 116.5,943.3 118.1,930.3 119.5,926.2 120.7,947.3 122.5,964.4 123.7,947.3 125.1,957.4 126.1,924.2 127.5,951.4 128.7,945.3 130.2,941.3 131.6,927.2 132.8,943.3 134.2,941.3 135.8,963.4 137.2,947.3 138.8,947.3 140.2,949.3 141.8,953.4 143.2,960.4 144.6,965.4 145.8,952.4 147.2,962.4 148.2,940.3 149.2,963.4 150.9,955.4 152.3,952.4 153.9,955.4 155.9,934.3 157.3,961.4 159.3,975.5 160.7,956.4 162.3,969.4 164.3,966.4 165.9,947.3 167.3,968.4 168.3,950.4 169.9,964.4 171.4,947.3 172.8,965.4 174.8,975.5 176.4,969.4 178.0,964.4 179.4,969.4 181.0,973.5 182.6,964.4 184.0,961.4 185.5,958.4 186.7,970.5 187.7,961.4 188.7,969.4 190.1,959.4 191.1,959.4 192.1,953.4 193.1,955.4 194.5,941.3 195.7,967.4 197.1,957.4 198.5,953.4 199.7,961.4 200.7,953.4 201.7,969.4 203.1,963.4 204.1,975.5 205.2,943.3 206.6,895.1 207.8,945.3 208.8,949.3 210.2,963.4 211.6,969.4 212.8,957.4 214.2,973.5 215.6,951.4 216.8,979.5 217.8,949.3 219.2,941.3 220.4,919.2 221.2,903.1 222.6,911.2 223.8,951.4 225.3,927.2 226.5,951.4 227.9,957.4 229.3,966.4 230.5,951.4 231.9,956.4 233.3,969.4 234.5,949.3 235.7,945.3 236.9,967.4 238.3,947.3 239.7,949.3 241.3,965.4 242.9,953.4 244.3,961.4 245.8,949.3 247.0,971.5 248.4,951.4 249.8,889.0 251.0,921.2 252.4,877.0 253.0,947.3 254.0,875.0 255.6,862.9 257.0,925.2 258.0,931.3 259.0,941.3 260.1,876.0 261.1,887.0 262.1,897.1 263.1,911.2 264.1,899.1 265.1,939.3 266.1,925.2 267.1,924.2 268.1,933.3 269.1,955.4 270.1,941.3 271.1,916.2 272.1,943.3 273.1,949.3 274.5,969.4 275.7,931.3 276.7,909.1 278.1,931.3 279.7,961.4 281.2,941.3 282.6,909.1 283.8,935.3 285.2,935.3 286.2,941.3 287.6,949.3 288.8,947.3 290.2,937.3 291.2,947.3 292.2,959.4 293.2,945.3 294.2,947.3 295.8,949.3 297.2,951.4 298.2,957.4 299.6,961.4 300.7,953.4 301.9,967.4 302.9,951.4 303.9,947.3 304.9,939.3 306.3,953.4 307.3,973.5 308.3,969.4 309.3,973.5 310.3,957.4 311.3,939.3 312.7,927.2 313.9,979.5 314.9,953.4 316.3,971.5 317.7,965.4 318.9,971.5 320.4,959.4 321.8,957.4 323.0,951.4 324.0,941.3 325.0,947.3 326.0,960.4 327.2,921.2 327.8,945.3 329.0,931.3 330.6,969.4 332.0,957.4 333.4,941.3 335.1,947.3 336.1,957.4 337.5,949.3 339.1,955.4 340.5,959.4 341.7,963.4 343.1,967.4 344.1,969.4 345.5,965.4 347.1,973.5 348.7,947.3 350.1,967.4 351.1,951.4 352.5,965.4 353.5,957.4 354.7,967.4 356.2,961.4 357.2,959.4 358.8,975.5 360.2,961.4 361.6,961.4 362.6,953.4 363.8,969.4 364.8,959.4 366.2,973.5 367.6,965.4 368.8,971.5 370.2,961.4 371.2,951.4 372.8,977.5 374.2,963.4 375.3,965.4 376.7,947.3 377.9,868.9 379.3,941.3 380.7,973.5 381.9,965.4 383.3,969.4 384.7,968.4 385.9,975.5 387.3,977.5 388.3,985.5 389.7,969.4 390.9,977.5 392.3,963.4 393.7,969.4 395.4,967.4 396.8,969.4 398.0,959.4 399.4,923.2 400.4,969.4 401.4,959.4 402.4,953.4 403.0,977.5 404.0,951.4 405.4,955.4 406.6,967.4 407.6,939.3 408.6,947.3 409.6,961.4 411.1,977.5 412.5,961.4 413.7,955.4 415.1,965.4 416.1,971.5 417.5,969.4 419.1,971.5 420.5,971.5 422.1,977.5 423.5,969.4 425.1,983.5 426.1,969.4 427.5,969.4 428.7,973.5 430.2,969.4 431.2,971.5 432.6,965.4 433.8,963.4 435.2,967.4 436.2,977.5 437.6,973.5 438.8,979.5 440.2,961.4 441.6,975.5 442.8,969.4 443.8,963.4 445.2,979.5 446.2,981.5 447.6,975.5 448.8,983.5 450.3,973.5 451.7,977.5 452.7,981.5 454.3,965.4 455.7,963.4 457.3,961.4 458.7,959.4 459.7,957.4 460.9,973.5 462.3,901.1 463.3,911.2 464.3,937.3 465.7,963.4 466.9,965.4 468.3,943.3 469.9,963.4 471.4,965.4 472.8,969.4 474.4,975.5 476.0,975.5 478.0,965.4 479.4,975.5 481.0,981.5 482.4,981.5 484.0,977.5 485.5,965.4 486.7,975.5 488.1,969.4 489.5,981.5 491.1,965.4 492.7,963.4 494.1,959.4 495.5,963.4 497.1,965.4 498.5,961.4 500.1,947.3 501.1,947.3 502.5,955.4 503.7,963.4 505.2,977.5 506.6,973.5 508.2,973.5 509.6,975.5 510.8,963.4 512.2,973.5 513.6,981.5 515.2,977.5 516.6,975.5 517.8,965.4 519.2,979.5 520.8,953.4 522.2,981.5 523.6,975.5 524.8,969.4 526.3,967.4 527.7,973.5 528.9,955.4 530.3,949.3 531.7,969.4 533.3,959.4 534.7,965.4 535.9,957.4 537.3,967.4 538.9,953.4 540.3,969.4 541.7,965.4 543.3,965.4 544.9,971.5 546.4,981.5 547.8,969.4 549.4,963.4 550.8,971.5 551.8,951.4 553.0,971.5 554.4,973.5 555.8,971.5 557.4,973.5 558.8,981.5 560.4,981.5 561.8,961.4 563.4,935.3 564.8,981.5" fill="none" stroke="#0000ff" stroke-width="1.8" stroke-linejoin="round" />
<polyline points="104.0,868.9 104.0,721.2 105.0,866.9 106.0,796.6 107.0,840.8 108.0,791.6 109.0,804.6 110.1,858.9 111.7,812.7 113.1,864.9 114.5,875.0 116.1,754.4 117.1,832.8 118.1,848.8 119.5,876.0 121.1,876.0 123.1,873.0 125.1,861.9 126.7,920.2 127.7,846.8 128.7,908.1 130.2,845.8 131.6,881.0 132.6,862.9 134.2,864.9 135.6,877.0 137.2,887.0 138.6,887.0 139.6,863.9 140.8,871.0 142.2,893.1 143.2,893.1 144.2,951.4 145.8,881.0 147.2,872.0 148.2,838.8 149.2,953.4 150.3,923.2 151.3,940.3 152.7,845.8 153.9,868.9 155.3,891.1 156.3,892.1 157.7,845.8 159.3,904.1 160.7,903.1 162.5,843.8 163.9,999.6 164.7,897.1 166.3,949.3 167.3,889.0 169.3,882.0 170.4,923.2 171.4,921.2 172.8,850.9 174.0,909.1 175.4,917.2 177.0,929.2 178.0,917.2 179.4,933.3 180.6,945.3 182.6,889.0 184.0,917.2 185.5,915.2 187.1,889.0 188.3,959.4 189.5,915.2 190.7,919.2 192.1,949.3 193.5,921.2 194.7,931.3 195.7,891.1 196.7,947.3 198.1,885.0 199.1,927.2 200.1,905.1 201.1,931.3 202.5,893.1 203.7,939.3 204.7,941.3 205.8,860.9 206.8,858.9 208.2,790.6 209.2,897.1 210.2,901.1 211.2,895.1 212.2,929.2 213.2,895.1 214.2,921.2 215.2,921.2 216.8,885.0 217.8,955.4 219.2,903.1 220.4,872.0 221.6,871.0 222.4,807.6 223.6,911.2 224.8,881.0 225.9,891.1 226.9,848.8 227.9,909.1 229.3,908.1 230.3,905.1 231.7,901.1 232.9,897.1 233.9,846.8 234.9,923.2 236.3,889.0 237.7,949.3 238.5,973.5 239.7,895.1 240.9,961.4 242.3,903.1 243.3,925.2 244.9,963.4 246.4,881.0 247.4,919.2 248.4,907.1 249.8,907.1 251.0,907.1 252.6,769.4 254.0,860.9 255.0,858.9 256.0,881.0 257.0,800.6 258.4,883.0 259.4,860.9 260.5,883.0 261.5,804.6 262.7,871.0 263.7,836.8 264.7,836.8 265.7,820.7 266.7,840.8 267.7,871.0 268.7,953.4 269.7,866.9 270.7,867.9 271.7,897.1 272.5,885.0 273.7,891.1 274.7,963.4 275.7,907.1 276.7,905.1 277.7,800.6 279.1,840.8 280.2,871.0 281.2,939.3 282.2,905.1 283.2,885.0 284.6,877.0 285.8,891.1 286.8,885.0 287.8,923.2 288.8,899.1 289.8,897.1 291.2,892.1 292.2,913.2 293.4,927.2 294.2,905.1 295.2,915.2 296.2,937.3 297.6,881.0 298.8,881.0 300.3,893.1 301.3,913.2 302.7,921.2 303.9,941.3 304.9,903.1 305.9,864.9 306.9,915.2 308.3,914.2 309.3,921.2 310.3,926.2 311.3,903.1 312.3,839.8 313.9,923.2 315.3,911.2 316.3,921.2 317.7,899.1 318.7,957.4 319.9,887.0 321.0,921.2 322.0,911.2 323.4,909.1 324.4,915.2 326.0,935.3 327.2,887.0 329.0,838.8 330.6,893.1 331.6,919.2 333.0,919.2 334.6,869.9 336.1,901.1 337.1,924.2 338.1,905.1 339.1,921.2 340.1,905.1 341.1,901.1 342.1,921.2 343.5,971.5 344.7,897.1 345.7,921.2 347.1,916.2 348.7,917.2 350.1,935.3 351.5,921.2 352.5,898.1 353.5,939.3 354.7,925.2 355.8,933.3 356.8,921.2 357.8,935.3 359.2,921.2 360.8,887.0 362.2,907.1 363.2,949.3 364.6,931.3 365.8,910.2 367.2,927.2 368.2,961.4 369.6,921.2 371.2,871.0 372.6,929.2 373.8,925.2 375.3,941.3 376.3,989.5 377.3,881.0 378.3,793.6 379.3,860.9 380.3,949.3 381.7,907.1 382.9,907.1 383.9,933.3 384.9,937.3 385.9,907.1 386.9,921.2 388.1,945.3 389.3,943.3 390.5,919.2 391.3,975.5 392.5,913.2 393.7,929.2 394.7,941.3 395.8,937.3 397.0,987.5 398.0,921.2 399.0,852.9 400.0,881.0 401.4,967.4 403.0,929.2 404.0,903.1 405.4,917.2 407.0,889.0 408.0,941.3 409.0,921.2 410.1,887.0 411.1,961.4 412.1,943.3 413.1,931.3 414.5,903.1 415.7,905.1 417.1,943.3 418.1,921.2 419.1,907.1 420.1,965.4 421.1,909.1 422.1,949.3 423.1,927.2 424.1,937.3 425.5,929.2 426.7,941.3 427.7,923.2 428.7,959.4 430.2,923.2 431.2,963.4 432.2,929.2 433.2,923.2 434.6,933.3 435.8,937.3 437.2,947.3 438.2,941.3 439.6,937.3 440.8,921.2 442.2,941.3 443.2,873.0 444.2,941.3 445.4,929.2 446.6,949.3 447.6,907.1 448.8,991.6 450.3,939.3 451.5,957.4 452.7,941.3 453.9,926.2 455.3,925.2 456.3,935.3 457.7,905.1 458.7,931.3 459.9,951.4 461.3,911.2 462.7,931.3 463.7,891.1 464.7,798.6 465.7,929.2 466.7,889.0 467.9,941.3 468.9,985.5 469.9,923.2 471.4,939.3 472.4,937.3 473.6,941.3 474.8,947.3 476.0,971.5 477.0,991.6 477.6,927.2 479.0,905.1 480.4,949.3 482.0,933.3 483.0,961.4 484.4,951.4 485.7,959.4 487.1,939.3 488.5,937.3 490.1,959.4 491.7,899.1 493.1,931.3 494.7,931.3 496.1,921.2 497.1,895.1 498.1,945.3 499.5,921.2 501.1,901.1 502.5,901.1 503.7,937.3 505.2,901.1 506.6,939.3 507.6,917.2 508.8,959.4 510.2,937.3 511.2,897.1 512.8,959.4 514.2,945.3 516.2,933.3 517.6,951.4 519.2,935.3 520.8,933.3 523.2,907.1 524.2,939.3 525.3,977.5 526.9,939.3 528.3,957.4 529.7,941.3 531.3,947.3 532.9,939.3 534.5,977.5 535.7,925.2 536.9,945.3 538.3,931.3 539.3,941.3 540.7,931.3 542.3,949.3 544.3,921.2 545.8,937.3 547.4,957.4 549.0,919.2 550.4,915.2 551.8,903.1 553.0,951.4 554.4,931.3 555.4,895.1 556.4,973.5 557.8,931.3 559.0,981.5 560.4,981.5 561.8,846.8 563.4,911.2 564.8,937.3" fill="none" stroke="#ff0000" stroke-width="1.8" stroke-linejoin="round" />
<polyline points="35.0,1486.1 35.6,1475.1 36.0,1494.9 36.3,1480.0 36.9,1495.8 37.0,1457.4 37.2,1479.6 37.5,1507.1 37.6,1502.2 38.0,1472.4 38.0,1456.4 38.4,1502.3 39.0,1463.3 39.0,1457.4 39.5,1486.6 40.2,1485.7 40.7,1489.3 41.1,1484.0 41.8,1493.3 42.3,1468.4 42.4,1482.0 42.9,1493.9 43.1,1468.9 43.3,1490.9 43.7,1495.0 43.9,1478.5 44.1,1513.7 44.2,1485.8 44.8,1497.4 45.5,1490.3 46.1,1492.4 46.7,1483.3 47.4,1493.0 48.1,1476.5 48.1,1485.3 48.5,1501.9 48.9,1484.4 49.1,1475.0 49.5,1502.8 49.6,1508.6 50.1,1488.1 50.6,1513.7 50.7,1495.7 50.9,1468.4 51.3,1482.5 51.9,1499.3 52.1,1465.4 52.6,1510.7 52.6,1482.9 53.1,1465.9 53.4,1503.2 53.6,1518.7 53.7,1484.8 54.4,1504.7 55.1,1466.3 55.5,1490.5 55.9,1472.9 56.4,1483.1 56.7,1475.6 57.1,1458.4 57.4,1482.7 57.9,1471.6 58.6,1485.2 58.9,1441.3 59.2,1466.3 59.9,1486.5 60.1,1441.3 60.4,1450.0 60.9,1493.9 61.1,1442.3 61.1,1505.6 61.6,1452.9 61.9,1518.2 62.0,1480.4 62.1,1448.3 62.5,1469.1 63.0,1487.8 63.3,1473.1 63.9,1492.8 64.6,1469.4 64.9,1453.4 65.2,1502.3 65.9,1488.7 66.2,1504.2 66.9,1483.3 67.6,1498.9 68.0,1486.7 68.6,1495.1 68.7,1514.7 69.0,1490.9 69.4,1493.6 69.7,1511.7 69.8,1489.6 70.2,1497.5 70.5,1482.2 71.2,1459.4 71.2,1490.5 71.6,1480.3 72.1,1489.5 72.2,1459.4 72.8,1479.8 73.6,1500.1 74.0,1482.3 74.2,1456.4 74.3,1491.6 75.0,1453.4 75.0,1477.1 75.4,1511.4 76.0,1483.9 76.4,1493.7 77.0,1492.8 77.7,1505.8 78.2,1486.4 78.7,1505.4 78.7,1515.7 79.2,1487.6 79.7,1520.7 79.9,1503.6 80.6,1496.1 81.3,1510.8 82.0,1491.5 82.7,1504.5 83.2,1493.6 83.5,1509.5 84.0,1502.1 84.6,1512.3 85.3,1501.8 86.1,1512.0 86.5,1502.1 86.8,1485.5 87.0,1506.4 87.6,1499.2 87.8,1486.5 88.3,1510.8 88.9,1497.2 89.6,1517.6 90.3,1500.7 90.8,1489.5 91.0,1507.3 91.4,1497.3 91.8,1489.5 92.1,1515.1 92.8,1492.2 93.3,1523.2 93.8,1524.7 94.0,1484.3 94.4,1497.9 94.5,1442.3 95.1,1483.5 95.8,1505.5 95.8,1442.3 96.6,1467.2 97.2,1499.8 97.6,1474.1 97.9,1509.7 98.5,1485.1 99.2,1515.4 99.8,1520.7 99.9,1478.1 100.3,1491.2 100.8,1478.7 100.8,1520.7 101.4,1492.7 101.7,1476.7 101.8,1463.4 102.5,1502.3 102.8,1461.4 103.1,1479.8 103.4,1461.4 103.8,1518.8 104.3,1496.4 104.9,1506.4 105.4,1504.9 105.8,1518.5 106.2,1504.8 106.8,1506.6 107.3,1495.7 107.8,1517.4 108.2,1500.7 108.8,1505.2 109.4,1499.0 110.0,1516.4 110.4,1520.7 110.7,1500.0 111.2,1511.0 111.8,1498.9 111.9,1489.5 111.9,1518.7 112.4,1512.5 113.0,1501.2 113.0,1488.5 113.7,1507.2 114.0,1488.5 114.5,1491.5 114.9,1514.7 115.6,1498.7 116.0,1508.7 116.4,1500.3 116.8,1512.0 117.5,1501.0 118.0,1476.5 118.2,1513.0 118.8,1498.5 119.2,1520.6 119.5,1530.8 119.6,1495.4 120.1,1492.6 120.4,1514.3 120.9,1488.5 121.2,1503.4 121.6,1522.7 121.8,1512.4 122.4,1504.7 122.6,1495.6 122.9,1512.8 123.5,1509.4 123.9,1518.2 124.2,1511.7 124.7,1517.9 125.0,1510.1 125.6,1528.7 125.8,1519.3 126.2,1505.3 126.6,1525.3 127.1,1513.3 127.5,1526.1 127.6,1527.7 128.2,1509.4 128.6,1539.8 128.6,1523.2 129.2,1504.7 129.8,1516.4 130.1,1500.6 130.5,1513.5 131.0,1523.7 131.1,1498.6 131.6,1508.1 132.1,1500.6 132.3,1523.1 132.6,1507.4 133.3,1517.6 133.9,1509.9 134.6,1524.7 134.6,1511.5 135.2,1508.0 135.6,1533.8 135.6,1513.5 136.0,1507.0 136.4,1510.8 136.6,1491.6 136.6,1523.7 137.1,1502.2 137.5,1512.1 138.0,1506.5 138.4,1506.1 139.0,1503.0 139.6,1506.2 140.3,1488.7 140.7,1477.5 140.7,1502.8 141.2,1487.8 141.7,1477.5 141.9,1507.7 142.6,1490.1 143.3,1508.6 144.0,1455.4 144.0,1480.2 144.6,1507.0 144.7,1522.7 144.9,1492.3 145.3,1515.2 145.8,1490.1 146.2,1517.2 146.2,1521.7 146.9,1488.2 147.0,1474.5 147.5,1501.4 148.0,1491.9 148.0,1474.5 148.5,1505.9 148.9,1489.7 149.7,1507.9 150.1,1492.5 150.9,1498.0 151.2,1485.4 151.7,1506.4 152.0,1470.5 152.1,1491.2 152.7,1501.6 153.0,1462.9 153.1,1492.7 153.6,1494.9 154.0,1491.8 154.5,1504.0 155.1,1485.5 155.7,1496.6 156.2,1471.8 156.7,1497.6 157.4,1490.6 158.0,1510.7 158.2,1515.7 158.7,1480.5 158.7,1438.3 159.3,1488.9 159.7,1460.9 160.3,1511.4 160.9,1484.7 161.6,1511.4 161.8,1457.4 162.3,1469.3 162.9,1485.4 163.3,1481.6 163.8,1507.1 164.4,1468.5 164.8,1513.7 165.0,1501.3 165.3,1456.4 165.5,1469.0 165.8,1492.6 166.3,1456.4 166.4,1461.3 166.8,1525.7 167.0,1488.1 167.6,1480.3 167.8,1520.7 168.0,1494.9 168.7,1476.7 169.1,1484.0 169.7,1456.7 170.2,1502.2 170.8,1478.7 171.3,1444.3 171.4,1484.4 171.8,1476.7 172.3,1481.2 172.3,1395.1 172.8,1507.6 172.9,1469.5 173.2,1491.2 173.3,1443.3 173.8,1477.3 173.8,1510.7 174.4,1488.8 175.0,1474.5 175.5,1491.0 176.3,1484.1 176.3,1460.4 176.7,1508.0 176.8,1512.7 177.0,1481.2 177.5,1498.1 178.1,1462.1 178.3,1509.6 178.5,1491.3 178.9,1461.6 179.5,1494.6 180.3,1472.9 180.7,1491.3 181.4,1464.5 182.0,1481.7 182.4,1414.2 182.6,1511.7 182.6,1450.4 182.9,1493.8 183.4,1436.3 183.4,1474.1 183.9,1511.7 183.9,1482.2 184.4,1461.6 185.1,1493.2 185.8,1469.1 186.2,1488.2 186.9,1459.5 187.2,1439.3 187.3,1477.1 188.1,1458.3 188.7,1472.1 189.2,1456.1 189.5,1480.1 190.0,1452.7 190.7,1440.1 190.7,1464.7 191.3,1457.8 191.7,1481.5 192.4,1459.0 192.5,1484.0 193.1,1480.1 193.8,1460.3 194.4,1472.3 195.0,1469.6 195.2,1509.5 195.6,1472.1 196.0,1462.1 196.4,1476.8 196.9,1471.8 197.0,1489.5 197.4,1479.1 197.6,1449.3 198.2,1460.1 198.6,1481.3 199.2,1469.0 199.7,1479.5 200.1,1471.0 200.7,1502.2 200.8,1484.3 201.6,1477.9 201.6,1452.9 202.3,1484.6 202.7,1478.5 203.1,1483.3 203.5,1478.3 204.0,1500.1 204.7,1473.6 205.2,1492.8 205.7,1476.3 206.1,1490.4 206.2,1507.7 206.9,1479.7 207.3,1497.0 208.0,1476.7 208.4,1478.4 208.9,1425.5 208.9,1467.1 209.4,1500.7 209.8,1502.2 210.2,1466.4 210.5,1489.3 211.2,1458.7 211.8,1459.6 212.3,1456.3 213.0,1466.1 213.5,1484.0 213.8,1401.4 214.2,1437.6 214.8,1407.6 215.4,1451.0 215.9,1350.6 216.0,1392.0 216.7,1429.0 217.0,1389.8 217.1,1438.3 217.7,1394.0 218.3,1342.2 218.8,1386.7 219.4,1345.9 220.0,1362.5 220.6,1335.9 220.8,1270.3 220.8,1410.9 221.2,1361.4 221.8,1325.3 222.1,1421.9 222.1,1353.9 222.8,1303.6 223.2,1233.7 223.5,1368.2 223.9,1313.4 224.3,1391.0 224.4,1275.8 224.8,1329.6 225.1,1391.4 225.6,1346.7 226.1,1381.1 226.5,1299.9 226.8,1286.7 226.9,1366.3 227.5,1334.3 227.9,1377.9 228.5,1340.6 228.9,1393.1 229.6,1371.2 230.0,1382.8 230.5,1338.9 230.5,1440.1 231.2,1393.8 231.6,1379.9 232.2,1412.5 232.3,1330.5 232.6,1337.0 233.1,1398.5 233.2,1221.9 233.5,1337.0 233.8,1404.9 234.1,1330.5 234.1,1429.2 234.5,1372.1 234.9,1485.8 235.2,1388.9 235.9,1429.2 236.0,1340.8 236.5,1404.5 237.1,1343.9 237.5,1395.5 238.0,1366.2 238.4,1385.5 238.9,1383.4 239.4,1395.4 239.6,1343.3 239.6,1425.5 240.1,1386.8 240.5,1411.9 241.2,1366.4 241.8,1412.2 242.3,1390.0 243.0,1408.8 243.6,1445.6 243.7,1387.3 244.1,1434.3 244.5,1356.1 244.7,1387.5 245.1,1412.7 245.8,1405.5 246.2,1407.6 246.7,1373.5 247.2,1430.7 247.3,1442.0 247.6,1399.9 248.3,1412.4 248.6,1393.1 249.3,1430.5 250.0,1404.3 250.0,1326.9 250.3,1417.4 251.1,1404.8 251.3,1347.0 251.9,1428.4 252.4,1415.1 252.9,1440.4 253.6,1432.4 254.2,1500.4 254.3,1446.7 254.9,1417.1 255.3,1442.1 256.0,1427.1 256.4,1445.4 256.8,1419.1 257.2,1455.7 257.6,1437.8 258.4,1462.9 258.6,1409.1 258.8,1417.5 259.2,1451.9 259.9,1430.4 260.1,1465.7 260.4,1440.3 261.0,1423.7 261.6,1438.0 261.9,1491.3 262.2,1412.6 262.6,1445.4 263.2,1429.8 263.7,1437.9 263.7,1392.6 264.1,1426.2 264.6,1451.0 265.1,1409.6 265.6,1460.1 266.2,1408.0 266.6,1442.4 267.4,1420.2 267.7,1467.8 267.8,1391.8 268.4,1449.6 269.1,1499.3 269.2,1472.0 269.6,1463.1 270.0,1480.1 270.7,1466.5 271.2,1476.6 271.7,1461.2 271.7,1449.8 272.3,1474.4 272.9,1468.1 273.5,1471.8 273.9,1460.1 274.3,1470.4 275.0,1456.0 275.1,1449.8 275.4,1480.1 276.0,1470.7 276.4,1474.9 276.8,1448.1 277.1,1465.6 277.6,1494.2 277.7,1478.4 278.2,1474.1 278.7,1479.6 279.1,1474.4 279.8,1485.1 280.2,1474.6 281.0,1483.4 281.1,1514.6 281.5,1467.4 282.0,1495.9 282.5,1461.5 282.9,1479.6 283.2,1472.4 284.0,1494.2 284.5,1471.0 285.2,1484.3 285.3,1456.6 285.5,1477.6 286.1,1491.8 286.5,1462.5 287.1,1485.5 287.5,1469.0 287.9,1493.9 288.3,1473.6 288.8,1484.1 289.3,1459.5 289.6,1492.7 290.2,1468.2 290.4,1454.9 290.5,1484.1 291.3,1471.7 291.9,1477.5 292.5,1469.5 293.0,1489.1 293.0,1494.2 293.7,1462.8 294.1,1475.8 294.6,1462.2 295.1,1479.0 295.6,1434.5 295.8,1466.4 296.5,1487.3 296.8,1432.8 296.8,1501.0 297.2,1467.9 297.5,1475.5 298.1,1466.9 298.7,1481.5 299.2,1466.2 299.8,1492.8 299.8,1448.1 300.3,1466.4 300.8,1496.8 301.4,1474.5 301.8,1479.9 301.9,1518.0 302.3,1450.3 302.8,1484.8 303.1,1476.1 303.2,1444.7 303.7,1491.6 304.2,1466.9 304.6,1480.8 305.2,1470.0 305.8,1509.5 305.9,1479.7 306.4,1473.6 306.9,1480.3 307.6,1467.5 308.4,1471.4 308.8,1437.0 309.2,1431.0 309.6,1497.2 310.3,1464.3 310.7,1474.7 310.9,1434.5 310.9,1502.7 311.1,1437.0 311.6,1466.0 312.3,1457.1 312.7,1470.6 313.3,1462.5 314.0,1473.2 314.6,1460.6 315.0,1478.6 315.5,1468.6 316.2,1482.4 316.6,1446.7 317.3,1482.7 317.7,1439.6 317.9,1457.2 318.4,1481.5 319.0,1454.2 319.4,1501.0 319.7,1495.1 319.9,1436.2 320.3,1437.9 320.8,1469.7 321.1,1385.0 321.6,1451.6 322.1,1478.6 322.7,1423.8 322.8,1495.9 323.1,1452.1 323.8,1434.3 324.2,1477.6 324.8,1365.4 325.1,1344.1 325.4,1414.4 325.8,1411.8 325.9,1251.9 326.1,1439.8 326.7,1390.2 327.4,1429.2 328.0,1395.7 328.4,1443.1 328.8,1417.4 329.3,1433.3 329.8,1411.8 330.2,1475.4 330.3,1451.0 330.6,1422.1 330.9,1402.0 331.4,1440.8 331.8,1435.6 332.4,1458.2 332.9,1440.6 333.3,1460.9 333.9,1450.3 334.4,1455.6 335.1,1445.1 335.3,1436.2 335.8,1453.4 336.1,1438.5 336.7,1467.2 337.0,1501.0 337.1,1456.0 337.7,1477.9 338.5,1462.3 338.9,1469.3 339.1,1427.6 339.4,1447.0 340.0,1468.6 340.5,1457.1 340.8,1490.7 341.0,1488.8 341.6,1455.0 342.3,1486.3 342.5,1439.6 342.5,1499.3 342.9,1465.0 343.5,1467.7 343.5,1439.9 343.9,1455.7 344.3,1471.5 344.8,1470.0 345.4,1479.6 346.1,1453.4 346.5,1480.4 346.6,1494.6 347.2,1466.6 347.7,1503.0 347.7,1471.1 348.5,1456.6 348.9,1470.7 349.4,1468.3 349.8,1467.9 350.1,1444.1 350.5,1441.9 350.9,1470.2 351.1,1428.7 351.4,1453.3 352.1,1471.3 352.7,1439.3 353.5,1475.4 353.9,1406.3 354.1,1445.9 354.8,1470.8 355.0,1421.7 355.4,1442.5 355.9,1455.2 356.2,1432.4 356.4,1424.5 357.0,1450.7 357.3,1446.4 358.1,1452.2 358.4,1443.5 358.5,1483.3 358.8,1455.4 359.4,1433.4 360.1,1465.3 360.5,1443.2 360.6,1416.1 361.2,1459.3 361.6,1427.3 362.3,1470.1 362.7,1434.2 363.1,1451.1 363.1,1476.3 363.7,1418.9 363.8,1447.1 364.5,1466.2 365.1,1443.3 365.6,1461.3 366.2,1457.4 366.6,1465.0 366.9,1486.1 367.0,1450.3 367.4,1463.7 367.6,1439.9 367.9,1500.2 367.9,1444.0 368.4,1472.5 369.0,1486.1 369.1,1457.8 369.7,1471.1 370.2,1458.1 370.4,1439.9 370.9,1469.1 371.5,1447.6 371.8,1441.3 371.9,1463.3 372.6,1457.3 373.0,1467.2 373.6,1462.9 374.4,1475.8 374.6,1481.9 374.9,1468.2 375.6,1471.9 376.1,1461.0 376.8,1471.3 377.3,1456.9 377.7,1476.4 378.1,1463.7 378.7,1492.2 378.8,1451.1 378.8,1500.2 379.3,1466.1 380.0,1482.3 380.5,1466.2 381.0,1478.1 381.6,1448.3 381.7,1471.1 382.1,1477.0 382.8,1465.8 383.0,1431.5 383.3,1492.5 383.8,1459.0 384.3,1494.4 384.4,1501.6 385.0,1472.3 385.6,1481.7 386.0,1467.9 386.7,1486.2 387.1,1460.2 387.6,1478.5 388.0,1461.4 388.5,1480.8 388.9,1464.8 389.3,1427.3 389.4,1477.9 389.8,1440.8 390.0,1511.4 390.2,1466.2 390.8,1450.9 391.2,1469.1 391.9,1453.2 392.6,1395.1 392.6,1485.0 392.9,1441.0 393.4,1484.4 394.0,1435.7 394.1,1460.1 394.6,1468.3 395.0,1446.7 395.4,1465.4 395.9,1460.4 396.6,1467.1 397.0,1501.6 397.2,1449.3 397.7,1472.3 398.2,1450.1 398.4,1488.9 398.9,1475.2 399.5,1456.0 399.8,1427.3 400.1,1472.4 400.8,1457.2 401.5,1463.3 402.2,1435.1 402.8,1466.7 402.9,1501.6 403.3,1444.3 403.9,1468.4 404.6,1446.6 404.7,1403.5 405.2,1458.8 405.8,1441.1 406.3,1458.6 406.8,1476.3 406.9,1432.0 407.7,1452.7 408.3,1413.1 408.8,1475.2 409.2,1437.3 409.2,1371.3 409.7,1458.8 410.4,1390.9 410.5,1412.2 411.0,1465.9 411.6,1423.4 411.8,1493.2 412.3,1473.9 413.0,1436.5 413.2,1487.5 413.5,1483.5 413.9,1407.5 414.6,1393.7 414.6,1471.6 414.9,1412.8 415.5,1386.7 415.7,1429.8 416.2,1420.6 416.7,1440.5 416.9,1385.3 417.2,1423.4 417.8,1431.9 418.2,1417.0 418.9,1443.5 419.3,1423.5 420.0,1440.8 420.4,1431.7 420.7,1460.2 421.1,1443.2 421.6,1421.4 422.2,1442.6 422.7,1415.4 423.3,1447.3 423.8,1417.5 424.1,1412.7 424.1,1468.8 424.3,1444.0 425.0,1436.9 425.1,1395.6 425.3,1466.3 425.5,1445.6 426.0,1431.7 426.3,1398.0 426.4,1448.7 426.7,1436.4 427.4,1441.2 427.8,1425.6 428.4,1466.1 429.0,1482.2 429.0,1438.2 429.5,1479.1 429.8,1435.9 430.0,1417.6 430.5,1476.0 430.7,1367.6 430.9,1436.9 431.4,1417.6 431.4,1489.5 431.6,1457.6 432.0,1454.5 432.7,1467.8 433.1,1453.2 433.5,1469.0 433.9,1495.6 434.0,1444.7 434.4,1488.8 434.8,1456.6 435.1,1518.8 435.5,1487.5 436.1,1455.4 436.3,1512.7 436.8,1477.3 437.2,1450.3 437.9,1485.3 438.4,1464.9 438.7,1431.0 439.1,1473.9 439.6,1462.4 439.9,1468.5 440.5,1464.4 440.9,1477.7 441.2,1487.1 441.4,1463.9 442.2,1485.0 442.4,1442.0 442.7,1464.3 443.3,1476.7 443.4,1442.0 443.8,1446.3 444.3,1472.0 444.8,1492.0 444.9,1466.3 445.5,1484.8 445.8,1437.1 446.1,1466.7 446.9,1486.2 447.0,1448.0 447.3,1493.2 447.4,1455.2 448.0,1478.9 448.6,1479.1 449.2,1488.9 449.7,1473.3 450.2,1494.4 450.7,1482.4 451.2,1491.5 451.9,1480.8 452.3,1487.6 452.9,1479.3 453.1,1472.4 453.3,1496.2 453.4,1500.5 454.0,1484.4 454.3,1472.4 454.6,1488.3 455.1,1480.6 455.7,1494.3 456.0,1476.8 456.7,1494.4 457.0,1504.1 457.0,1480.6 457.5,1492.1 458.0,1517.6 458.2,1486.8 458.8,1493.5 458.9,1467.6 458.9,1502.9 459.6,1470.7 460.2,1494.0 460.8,1474.8 461.4,1482.6 462.0,1467.7 462.5,1469.4 463.0,1460.5 463.3,1470.2 463.7,1435.9 463.9,1436.6 464.4,1475.0 465.0,1433.3 465.4,1465.5 465.6,1388.3 465.9,1442.1 466.4,1487.6 466.8,1427.9 467.4,1472.6 467.4,1502.9 468.0,1460.7 468.6,1504.1 468.6,1481.7 469.0,1453.4 469.2,1416.3 469.5,1498.5 469.8,1500.5 470.2,1447.7 470.8,1474.7 471.4,1463.2 471.8,1468.6 472.1,1464.8 472.8,1495.0 473.1,1446.4 473.8,1475.2 474.1,1424.9 474.5,1474.7 474.9,1476.8 475.3,1469.7 475.6,1406.6 476.0,1482.1 476.5,1454.1 476.6,1457.3 477.0,1493.1 477.5,1472.2 478.2,1487.9 478.9,1465.9 479.2,1505.8 479.6,1513.9 479.9,1486.7 480.3,1495.7 480.7,1470.2 480.8,1515.1 481.2,1462.7 481.4,1492.6 481.9,1488.0 482.5,1501.8 482.9,1479.5 483.5,1493.8 484.1,1473.6 484.7,1497.6 484.8,1462.7 485.4,1474.9 486.1,1494.0 486.4,1486.3 487.2,1495.3 487.7,1479.4 488.3,1506.7 488.9,1491.2 489.3,1507.7 489.8,1486.6 490.5,1508.4 491.1,1484.8 491.6,1501.5 492.1,1495.4 492.6,1477.3 492.7,1502.4 493.0,1511.5 493.1,1480.9 493.6,1479.8 493.7,1501.7 494.3,1484.9 494.8,1506.0 495.4,1490.8 496.1,1501.5 496.7,1498.3 497.4,1505.1 497.6,1515.4 498.1,1490.2 498.6,1509.8 498.8,1482.1 499.1,1492.7 499.5,1500.1 500.1,1517.9 500.2,1484.0 500.7,1512.0 501.4,1519.2 501.4,1485.1 501.7,1466.7 501.8,1514.4 502.6,1483.5 502.9,1468.0 503.1,1506.1 503.5,1490.9 503.9,1498.3 504.4,1478.5 505.0,1499.5 505.4,1485.6 505.8,1498.8 506.1,1490.5 506.7,1491.4 506.8,1473.1 506.8,1514.1 507.3,1485.8 507.8,1491.6 508.2,1490.0 508.9,1495.3 509.5,1481.6 510.0,1490.0 510.0,1466.7 510.7,1478.3 511.4,1496.5 511.6,1506.4 511.8,1468.9 512.2,1487.5 512.5,1479.0 512.9,1503.3 513.3,1448.8 513.4,1474.3 514.2,1485.5 514.2,1505.1 514.7,1477.6 515.2,1510.2 515.3,1503.8 515.7,1455.1 516.3,1501.6 516.9,1451.0 517.0,1356.0 517.4,1486.5 518.2,1471.2 518.9,1474.7 519.4,1469.2 519.6,1511.5 519.8,1504.2 520.5,1462.2 520.9,1412.3 520.9,1487.8 521.5,1466.6 522.3,1491.6 522.9,1482.7 523.7,1489.6 524.3,1479.9 524.7,1509.0 524.9,1494.2 525.4,1482.0 525.8,1493.0 526.0,1434.1 526.2,1484.9 526.6,1486.6 527.2,1484.4 527.7,1506.9 528.1,1478.9 528.8,1500.4 529.2,1466.4 529.3,1457.8 529.7,1505.4 529.8,1528.2 530.4,1471.5 531.0,1494.2 531.7,1481.2 531.9,1453.3 532.3,1488.8 532.4,1506.4 532.7,1481.5 533.1,1489.1 533.5,1473.9 534.2,1486.9 534.6,1474.7 534.7,1459.7 535.0,1490.3 535.4,1476.5 536.0,1496.1 536.3,1467.9 537.1,1508.3 537.5,1515.4 537.7,1482.8 538.0,1403.4 538.2,1499.7 538.6,1489.8 539.0,1511.2 539.8,1468.0 540.1,1514.1 540.5,1498.1 541.2,1483.9 541.6,1491.4 542.4,1480.1 542.7,1495.5 543.0,1466.7 543.1,1480.7 543.4,1501.4 543.8,1478.4 543.9,1521.8 544.4,1502.0 544.9,1457.1 544.9,1488.6 545.3,1504.7 546.0,1472.6 546.4,1500.8 547.0,1492.4 547.5,1496.9 547.7,1525.6 548.1,1485.7 548.8,1504.0 549.2,1483.7 549.6,1500.9 550.0,1457.8 550.2,1487.7 550.3,1523.0 550.6,1504.0 551.3,1489.8 551.3,1456.5 552.0,1502.0 552.7,1506.2 553.2,1510.8 553.6,1501.3 554.3,1509.4 554.8,1503.1 555.4,1521.8 555.4,1515.8 556.0,1506.2 556.5,1515.3 556.7,1521.8 557.1,1487.2 557.2,1496.7 557.9,1510.2 558.4,1491.0 559.1,1519.3 559.8,1489.1 560.3,1391.8 560.4,1512.1 560.5,1520.5 560.9,1496.7 561.3,1506.0 561.7,1496.5 562.1,1498.2 562.4,1476.8 562.8,1502.5 562.8,1468.0 563.1,1493.7 563.7,1512.4 564.3,1494.5 564.7,1512.9 565.1,1488.1 565.5,1514.5 565.9,1498.8 566.0,1525.6 566.3,1505.8 566.9,1497.7 567.6,1510.5 568.0,1450.1 568.2,1485.9 568.6,1513.2 569.0,1530.7 569.2,1473.1 569.7,1505.5 570.2,1483.3 570.9,1498.9 571.3,1486.7 571.8,1456.5 571.8,1518.9 572.5,1487.1 573.2,1509.3 573.6,1485.8 574.2,1518.9 574.6,1498.1 575.1,1509.9 575.7,1500.7 576.0,1513.6 576.2,1521.8 576.4,1502.3 576.8,1518.0 577.0,1478.3 577.5,1502.8 577.6,1526.0 578.1,1511.2 578.8,1487.0 579.2,1508.9 579.8,1498.5 580.3,1520.0 580.9,1498.8 581.1,1467.1 581.3,1512.4 581.8,1526.0 582.0,1502.6 582.5,1507.9 582.9,1492.7 583.5,1514.4 583.9,1488.1 583.9,1502.4 584.5,1510.7 584.8,1505.1 585.2,1509.4 585.7,1498.7 586.1,1517.3 586.8,1503.1 587.4,1523.9 587.8,1511.3 588.5,1527.7 589.1,1518.7 589.6,1524.0 590.1,1516.4 590.2,1542.8 590.6,1529.5 590.9,1514.9 591.4,1525.5 591.6,1537.2 592.0,1517.7 592.5,1527.0 593.0,1507.5 593.7,1520.8 593.7,1474.1 594.4,1514.4 594.9,1524.0 595.4,1511.2 596.1,1518.6 596.8,1509.8 597.2,1535.8 597.5,1518.3 597.9,1496.5 598.0,1509.2 598.6,1526.0 598.9,1462.9 599.3,1507.3 599.9,1517.2 600.5,1513.2 601.1,1523.1 601.8,1517.2 602.2,1524.0 602.9,1524.1 603.4,1535.9 604.0,1526.3 604.2,1542.8 604.5,1529.0 605.1,1516.6 605.6,1533.6 606.3,1525.8 606.7,1534.2 607.2,1522.6 607.7,1530.3 608.3,1516.1 608.4,1542.8 608.8,1528.7 609.2,1521.0 609.8,1527.8 609.8,1540.0 610.5,1523.9 611.0,1532.1 611.7,1505.5 612.1,1535.6 612.5,1499.9 612.6,1486.7 612.8,1525.6 613.6,1505.0 614.0,1537.2 614.2,1534.3 614.8,1486.4 615.3,1500.8 615.4,1430.7 615.8,1481.1 616.4,1510.9 617.1,1468.8 617.6,1500.9 618.1,1482.2 618.2,1462.9 618.7,1513.9 619.4,1477.2 619.6,1514.7 620.0,1505.9 620.8,1480.9 621.0,1457.3 621.2,1509.0 621.6,1482.7 622.1,1508.1 622.7,1482.3 623.1,1499.0 623.1,1426.5 623.7,1471.5 623.8,1510.5 624.5,1492.2 624.9,1475.5 625.4,1496.3 625.8,1482.4 625.9,1453.1 626.2,1493.7 626.7,1474.8 627.1,1450.3 627.4,1487.1 628.0,1483.0 628.6,1490.3 629.0,1470.3 629.4,1492.8 630.0,1473.7 630.5,1498.6 630.8,1510.5 630.9,1485.7 631.5,1506.2 632.1,1473.6 632.2,1441.9 632.6,1488.0 633.3,1473.6 633.7,1487.5 634.2,1473.8 634.9,1505.0 635.0,1520.4 635.3,1460.5 635.6,1483.0 636.2,1400.6 636.2,1526.0 636.3,1465.8 636.7,1487.7 637.1,1469.0 637.3,1533.0 637.8,1491.3 638.4,1455.5 638.9,1493.4 639.5,1432.8 640.1,1342.4 640.2,1475.9 640.6,1438.7 640.9,1352.2 641.0,1486.0 641.5,1432.1 642.1,1352.2 642.2,1456.0 642.8,1433.1 643.5,1486.1 644.0,1450.7 644.2,1413.9 644.5,1460.3 644.9,1457.7 645.6,1488.1 645.7,1486.4 646.1,1467.8 646.5,1474.5 647.0,1497.9 647.3,1467.8 647.4,1446.1 647.7,1478.9 648.3,1474.2" fill="none" stroke="#0000ff" stroke-width="1.6" stroke-linejoin="round" stroke-linejoin="miter" stroke-miterlimit="1"/>
<polyline points="35.0,1479.3 35.4,1476.9 35.8,1477.3 36.1,1482.6 36.5,1479.8 36.9,1479.7 37.3,1480.0 37.7,1481.3 38.0,1481.6 38.4,1480.6 38.8,1485.5 39.2,1483.5 39.6,1482.6 39.9,1486.9 40.3,1482.9 40.7,1484.5 41.1,1489.0 41.5,1484.3 41.8,1486.9 42.2,1490.2 42.6,1490.6 43.0,1486.5 43.4,1488.5 43.7,1491.7 44.1,1489.8 44.5,1494.5 44.9,1489.7 45.3,1495.6 45.6,1493.0 46.0,1491.5 46.4,1493.6 46.8,1491.6 47.2,1496.2 47.5,1493.3 47.9,1498.3 48.3,1496.4 48.7,1495.2 49.1,1494.7 49.4,1497.7 49.8,1494.4 50.2,1498.3 50.6,1492.0 51.0,1493.9 51.3,1493.4 51.7,1490.6 52.1,1493.5 52.5,1489.9 52.9,1491.3 53.3,1490.2 53.6,1487.8 54.0,1487.9 54.4,1485.2 54.8,1485.3 55.2,1489.7 55.5,1485.4 55.9,1487.3 56.3,1482.8 56.7,1485.6 57.1,1483.6 57.4,1483.7 57.8,1481.2 58.2,1478.5 58.6,1479.3 59.0,1478.0 59.3,1476.6 59.7,1480.2 60.1,1476.4 60.5,1476.6 60.9,1480.3 61.2,1480.0 61.6,1481.4 62.0,1481.8 62.4,1477.6 62.8,1479.9 63.1,1479.4 63.5,1485.4 63.9,1486.4 64.3,1485.1 64.7,1486.6 65.0,1489.4 65.4,1490.3 65.8,1487.6 66.2,1492.4 66.6,1489.3 66.9,1491.2 67.3,1487.6 67.7,1486.8 68.1,1492.1 68.5,1490.4 68.8,1490.5 69.2,1486.6 69.6,1487.5 70.0,1489.4 70.4,1490.6 70.7,1492.2 71.1,1493.0 71.5,1490.9 71.9,1493.1 72.3,1495.7 72.6,1492.7 73.0,1497.1 73.4,1494.7 73.8,1495.3 74.2,1491.5 74.5,1492.3 74.9,1493.9 75.3,1491.5 75.7,1489.0 76.1,1495.0 76.4,1494.8 76.8,1491.6 77.2,1490.3 77.6,1496.5 78.0,1495.1 78.3,1491.4 78.7,1493.2 79.1,1492.7 79.5,1497.9 79.9,1494.1 80.2,1499.6 80.6,1499.0 81.0,1494.8 81.4,1499.7 81.8,1498.1 82.1,1501.2 82.5,1502.4 82.9,1499.0 83.3,1498.2 83.7,1504.9 84.0,1501.8 84.4,1505.8 84.8,1504.3 85.2,1504.8 85.6,1505.6 85.9,1504.4 86.3,1503.3 86.7,1500.4 87.1,1505.0 87.5,1503.1 87.9,1503.9 88.2,1508.1 88.6,1503.4 89.0,1509.2 89.4,1505.1 89.8,1511.0 90.1,1512.3 90.5,1508.9 90.9,1511.5 91.3,1515.0 91.7,1511.8 92.0,1510.2 92.4,1507.2 92.8,1505.0 93.2,1505.8 93.6,1504.9 93.9,1502.0 94.3,1501.2 94.7,1498.4 95.1,1500.5 95.5,1498.0 95.8,1492.7 96.2,1493.5 96.6,1496.2 97.0,1496.5 97.4,1500.8 97.7,1497.9 98.1,1498.8 98.5,1504.3 98.9,1500.0 99.3,1502.5 99.6,1500.3 100.0,1503.3 100.4,1500.9 100.8,1502.2 101.2,1497.7 101.5,1501.0 101.9,1500.5 102.3,1500.5 102.7,1503.7 103.1,1505.2 103.4,1501.0 103.8,1503.0 104.2,1504.3 104.6,1504.0 105.0,1503.7 105.3,1506.0 105.7,1505.6 106.1,1509.5 106.5,1507.8 106.9,1505.6 107.2,1507.3 107.6,1508.7 108.0,1508.3 108.4,1507.3 108.8,1507.0 109.1,1506.9 109.5,1514.3 109.9,1512.7 110.3,1508.1 110.7,1512.9 111.0,1514.9 111.4,1512.0 111.8,1507.8 112.2,1509.6 112.6,1508.3 112.9,1505.6 113.3,1507.7 113.7,1503.6 114.1,1509.9 114.5,1507.7 114.8,1507.6 115.2,1509.8 115.6,1507.7 116.0,1504.8 116.4,1505.3 116.7,1505.0 117.1,1504.7 117.5,1510.6 117.9,1511.3 118.3,1507.7 118.6,1507.1 119.0,1510.6 119.4,1512.1 119.8,1512.7 120.2,1507.3 120.6,1511.7 120.9,1512.0 121.3,1511.7 121.7,1509.2 122.1,1508.7 122.5,1513.9 122.8,1510.7 123.2,1511.6 123.6,1513.4 124.0,1512.6 124.4,1516.3 124.7,1512.5 125.1,1511.4 125.5,1515.6 125.9,1516.4 126.3,1518.1 126.6,1517.4 127.0,1519.1 127.4,1519.5 127.8,1516.5 128.2,1516.7 128.5,1514.7 128.9,1516.1 129.3,1518.5 129.7,1515.2 130.1,1520.0 130.4,1516.3 130.8,1518.3 131.2,1522.1 131.6,1515.7 132.0,1515.6 132.3,1518.7 132.7,1517.2 133.1,1521.3 133.5,1515.6 133.9,1521.2 134.2,1520.8 134.6,1519.8 135.0,1516.4 135.4,1514.6 135.8,1516.6 136.1,1514.8 136.5,1514.1 136.9,1513.5 137.3,1514.2 137.7,1515.9 138.0,1516.8 138.4,1517.1 138.8,1511.5 139.2,1512.2 139.6,1513.0 139.9,1513.6 140.3,1511.8 140.7,1510.3 141.1,1508.2 141.5,1508.7 141.8,1508.4 142.2,1510.3 142.6,1505.6 143.0,1500.9 143.4,1497.4 143.7,1494.7 144.1,1496.4 144.5,1502.0 144.9,1498.3 145.3,1502.5 145.6,1501.7 146.0,1499.2 146.4,1501.0 146.8,1503.5 147.2,1499.8 147.5,1500.8 147.9,1498.5 148.3,1499.3 148.7,1503.7 149.1,1498.0 149.4,1499.2 149.8,1502.5 150.2,1500.6 150.6,1497.7 151.0,1502.1 151.3,1500.5 151.7,1502.6 152.1,1501.9 152.5,1502.6 152.9,1502.4 153.2,1500.8 153.6,1498.4 154.0,1498.5 154.4,1503.2 154.8,1500.4 155.2,1496.9 155.5,1501.9 155.9,1497.1 156.3,1495.5 156.7,1497.6 157.1,1494.6 157.4,1495.3 157.8,1494.4 158.2,1489.4 158.6,1489.3 159.0,1479.3 159.3,1474.7 159.7,1476.0 160.1,1473.1 160.5,1476.4 160.9,1475.0 161.2,1478.7 161.6,1482.7 162.0,1481.0 162.4,1482.5 162.8,1483.0 163.1,1478.6 163.5,1484.9 163.9,1482.7 164.3,1478.0 164.7,1483.0 165.0,1479.5 165.4,1477.7 165.8,1483.1 166.2,1480.0 166.6,1481.5 166.9,1476.9 167.3,1481.5 167.7,1476.3 168.1,1477.0 168.5,1477.2 168.8,1473.9 169.2,1477.3 169.6,1474.1 170.0,1474.4 170.4,1477.1 170.7,1475.8 171.1,1479.9 171.5,1478.7 171.9,1481.1 172.3,1478.3 172.6,1480.4 173.0,1479.5 173.4,1474.0 173.8,1477.9 174.2,1474.8 174.5,1477.6 174.9,1476.9 175.3,1478.5 175.7,1473.9 176.1,1476.2 176.4,1479.6 176.8,1482.7 177.2,1482.6 177.6,1479.5 178.0,1485.4 178.3,1483.6 178.7,1485.0 179.1,1484.9 179.5,1478.0 179.9,1482.0 180.2,1478.3 180.6,1472.5 181.0,1469.0 181.4,1467.6 181.8,1464.3 182.1,1456.4 182.5,1450.2 182.9,1451.1 183.3,1453.3 183.7,1459.1 184.0,1455.5 184.4,1458.9 184.8,1457.8 185.2,1462.2 185.6,1461.8 185.9,1461.8 186.3,1468.9 186.7,1467.1 187.1,1468.7 187.5,1470.1 187.8,1471.6 188.2,1465.1 188.6,1467.7 189.0,1466.5 189.4,1469.2 189.8,1472.1 190.1,1472.0 190.5,1467.0 190.9,1468.6 191.3,1473.7 191.7,1473.2 192.0,1471.6 192.4,1472.7 192.8,1471.0 193.2,1476.4 193.6,1473.7 193.9,1477.6 194.3,1476.3 194.7,1472.9 195.1,1475.2 195.5,1474.6 195.8,1479.5 196.2,1477.3 196.6,1473.4 197.0,1474.3 197.4,1475.7 197.7,1476.4 198.1,1477.3 198.5,1476.2 198.9,1476.2 199.3,1474.0 199.6,1478.4 200.0,1476.8 200.4,1474.8 200.8,1478.1 201.2,1481.4 201.5,1474.1 201.9,1474.3 202.3,1477.6 202.7,1474.2 203.1,1473.7 203.4,1474.8 203.8,1473.9 204.2,1476.9 204.6,1477.3 205.0,1481.2 205.3,1482.3 205.7,1477.0 206.1,1482.3 206.5,1485.3 206.9,1487.6 207.2,1487.0 207.6,1484.1 208.0,1482.2 208.4,1478.4 208.8,1475.9 209.1,1477.6 209.5,1476.1 209.9,1474.6 210.3,1470.7 210.7,1465.9 211.0,1467.2 211.4,1465.0 211.8,1461.2 212.2,1459.9 212.6,1455.5 212.9,1454.7 213.3,1451.4 213.7,1446.6 214.1,1446.3 214.5,1443.9 214.8,1446.0 215.2,1439.7 215.6,1436.2 216.0,1432.6 216.4,1429.5 216.7,1426.5 217.1,1421.2 217.5,1416.4 217.9,1418.9 218.3,1411.0 218.6,1405.2 219.0,1400.4 219.4,1392.8 219.8,1384.3 220.2,1375.4 220.5,1369.0 220.9,1360.3 221.3,1353.4 221.7,1342.2 222.1,1338.4 222.5,1327.6 222.8,1325.2 223.2,1317.1 223.6,1308.4 224.0,1304.1 224.4,1311.0 224.7,1321.6 225.1,1324.6 225.5,1335.2 225.9,1340.3 226.3,1348.3 226.6,1347.1 227.0,1353.5 227.4,1358.6 227.8,1356.3 228.2,1358.3 228.5,1358.2 228.9,1360.9 229.3,1363.2 229.7,1364.8 230.1,1359.0 230.4,1357.9 230.8,1354.1 231.2,1354.6 231.6,1354.1 232.0,1350.2 232.3,1344.3 232.7,1342.8 233.1,1339.1 233.5,1336.5 233.9,1334.9 234.2,1342.3 234.6,1344.4 235.0,1341.0 235.4,1340.0 235.8,1340.8 236.1,1344.9 236.5,1350.1 236.9,1351.1 237.3,1356.1 237.7,1355.8 238.0,1361.4 238.4,1369.1 238.8,1372.6 239.2,1373.6 239.6,1378.2 239.9,1378.5 240.3,1378.1 240.7,1382.2 241.1,1381.0 241.5,1386.7 241.8,1386.1 242.2,1388.4 242.6,1390.3 243.0,1389.0 243.4,1391.6 243.7,1389.5 244.1,1397.2 244.5,1395.8 244.9,1399.9 245.3,1394.4 245.6,1399.5 246.0,1401.5 246.4,1399.8 246.8,1399.2 247.2,1400.8 247.5,1401.3 247.9,1406.2 248.3,1401.7 248.7,1407.3 249.1,1404.8 249.4,1405.4 249.8,1405.3 250.2,1404.7 250.6,1405.1 251.0,1404.6 251.3,1405.0 251.7,1410.3 252.1,1409.2 252.5,1415.2 252.9,1419.0 253.2,1422.5 253.6,1422.5 254.0,1429.3 254.4,1433.1 254.8,1430.5 255.1,1430.4 255.5,1433.3 255.9,1437.4 256.3,1432.5 256.7,1432.4 257.1,1436.5 257.4,1438.6 257.8,1440.2 258.2,1437.1 258.6,1441.2 259.0,1435.5 259.3,1438.9 259.7,1433.8 260.1,1433.1 260.5,1433.4 260.9,1432.5 261.2,1435.3 261.6,1435.3 262.0,1431.7 262.4,1434.9 262.8,1428.5 263.1,1424.6 263.5,1422.6 263.9,1426.1 264.3,1429.0 264.7,1425.0 265.0,1425.6 265.4,1432.5 265.8,1431.0 266.2,1439.1 266.6,1438.4 266.9,1442.2 267.3,1442.9 267.7,1448.0 268.1,1447.1 268.5,1447.6 268.8,1453.3 269.2,1448.9 269.6,1454.2 270.0,1450.1 270.4,1455.0 270.7,1454.0 271.1,1457.8 271.5,1452.4 271.9,1456.4 272.3,1455.7 272.6,1459.9 273.0,1460.8 273.4,1459.3 273.8,1457.1 274.2,1458.1 274.5,1458.6 274.9,1460.3 275.3,1459.2 275.7,1459.4 276.1,1463.7 276.4,1463.3 276.8,1461.2 277.2,1466.6 277.6,1461.4 278.0,1464.6 278.3,1462.4 278.7,1468.2 279.1,1469.0 279.5,1465.1 279.9,1468.2 280.2,1468.3 280.6,1464.0 281.0,1464.0 281.4,1465.4 281.8,1468.7 282.1,1463.8 282.5,1467.9 282.9,1467.7 283.3,1467.1 283.7,1468.3 284.0,1470.9 284.4,1466.4 284.8,1471.3 285.2,1467.6 285.6,1470.6 285.9,1471.2 286.3,1466.1 286.7,1470.7 287.1,1471.2 287.5,1465.8 287.8,1463.5 288.2,1463.4 288.6,1468.8 289.0,1461.1 289.4,1466.9 289.7,1460.6 290.1,1464.1 290.5,1458.7 290.9,1458.5 291.3,1461.4 291.7,1458.5 292.0,1461.8 292.4,1467.5 292.8,1467.6 293.2,1469.8 293.6,1470.9 293.9,1464.4 294.3,1466.3 294.7,1470.7 295.1,1469.6 295.5,1464.5 295.8,1467.5 296.2,1465.1 296.6,1466.7 297.0,1465.1 297.4,1465.3 297.7,1473.0 298.1,1469.0 298.5,1472.2 298.9,1466.0 299.3,1467.9 299.6,1464.6 300.0,1466.4 300.4,1464.6 300.8,1468.2 301.2,1464.3 301.5,1468.6 301.9,1467.3 302.3,1464.8 302.7,1467.0 303.1,1468.4 303.4,1471.6 303.8,1467.5 304.2,1466.5 304.6,1471.9 305.0,1471.3 305.3,1469.8 305.7,1466.2 306.1,1465.1 306.5,1465.3 306.9,1462.9 307.2,1461.2 307.6,1463.0 308.0,1460.8 308.4,1460.3 308.8,1457.4 309.1,1453.4 309.5,1456.7 309.9,1454.9 310.3,1454.2 310.7,1455.4 311.0,1457.5 311.4,1460.8 311.8,1461.1 312.2,1460.7 312.6,1459.2 312.9,1459.4 313.3,1460.9 313.7,1466.6 314.1,1464.6 314.5,1466.9 314.8,1469.4 315.2,1469.6 315.6,1476.9 316.0,1470.9 316.4,1476.3 316.7,1479.8 317.1,1474.3 317.5,1475.4 317.9,1472.2 318.3,1469.7 318.6,1468.2 319.0,1468.0 319.4,1473.6 319.8,1473.5 320.2,1474.8 320.5,1468.7 320.9,1473.4 321.3,1470.7 321.7,1473.0 322.1,1472.3 322.4,1470.7 322.8,1475.4 323.2,1465.9 323.6,1468.6 324.0,1466.7 324.3,1461.5 324.7,1454.9 325.1,1445.3 325.5,1427.4 325.9,1421.9 326.3,1423.2 326.6,1421.0 327.0,1423.9 327.4,1418.6 327.8,1415.3 328.2,1411.6 328.5,1408.8 328.9,1408.5 329.3,1413.0 329.7,1414.6 330.1,1414.6 330.4,1419.0 330.8,1417.6 331.2,1423.4 331.6,1421.4 332.0,1424.6 332.3,1426.2 332.7,1429.0 333.1,1430.2 333.5,1432.6 333.9,1440.3 334.2,1438.9 334.6,1440.4 335.0,1442.0 335.4,1445.5 335.8,1442.5 336.1,1443.1 336.5,1449.0 336.9,1447.5 337.3,1449.8 337.7,1452.1 338.0,1453.5 338.4,1454.3 338.8,1449.3 339.2,1452.7 339.6,1457.1 339.9,1458.2 340.3,1454.3 340.7,1455.7 341.1,1457.8 341.5,1458.3 341.8,1461.6 342.2,1466.4 342.6,1464.6 343.0,1462.1 343.4,1457.5 343.7,1457.7 344.1,1461.1 344.5,1458.1 344.9,1455.6 345.3,1455.3 345.6,1458.4 346.0,1458.8 346.4,1455.2 346.8,1459.8 347.2,1458.3 347.5,1460.2 347.9,1458.9 348.3,1461.2 348.7,1462.5 349.1,1464.3 349.4,1462.9 349.8,1462.7 350.2,1463.8 350.6,1458.6 351.0,1457.8 351.3,1459.8 351.7,1454.7 352.1,1453.2 352.5,1449.3 352.9,1449.7 353.2,1440.6 353.6,1440.9 354.0,1442.1 354.4,1437.0 354.8,1438.2 355.1,1440.8 355.5,1439.9 355.9,1438.5 356.3,1436.5 356.7,1438.7 357.0,1437.0 357.4,1438.4 357.8,1434.2 358.2,1435.8 358.6,1438.3 359.0,1440.2 359.3,1437.4 359.7,1437.7 360.1,1439.1 360.5,1441.6 360.9,1436.3 361.2,1441.9 361.6,1440.0 362.0,1437.6 362.4,1437.0 362.8,1431.8 363.1,1427.0 363.5,1436.2 363.9,1437.9 364.3,1442.4 364.7,1444.5 365.0,1449.7 365.4,1450.9 365.8,1445.5 366.2,1448.4 366.6,1446.3 366.9,1445.2 367.3,1447.2 367.7,1443.4 368.1,1443.0 368.5,1445.4 368.8,1441.8 369.2,1441.8 369.6,1441.5 370.0,1444.4 370.4,1444.4 370.7,1446.1 371.1,1444.8 371.5,1443.7 371.9,1449.8 372.3,1450.4 372.6,1453.5 373.0,1455.0 373.4,1451.9 373.8,1454.1 374.2,1454.4 374.5,1460.9 374.9,1456.8 375.3,1457.9 375.7,1463.8 376.1,1463.6 376.4,1461.1 376.8,1466.6 377.2,1467.6 377.6,1466.7 378.0,1464.4 378.3,1469.3 378.7,1467.3 379.1,1468.5 379.5,1471.5 379.9,1470.5 380.2,1471.3 380.6,1466.5 381.0,1468.2 381.4,1469.9 381.8,1466.6 382.1,1474.1 382.5,1469.5 382.9,1470.2 383.3,1471.3 383.7,1471.6 384.0,1476.7 384.4,1475.3 384.8,1475.8 385.2,1475.9 385.6,1474.0 385.9,1476.6 386.3,1481.4 386.7,1481.0 387.1,1480.6 387.5,1475.5 387.8,1474.4 388.2,1471.9 388.6,1473.9 389.0,1471.2 389.4,1470.4 389.7,1469.0 390.1,1468.2 390.5,1465.1 390.9,1466.4 391.3,1459.8 391.6,1462.7 392.0,1457.8 392.4,1452.7 392.8,1453.4 393.2,1453.9 393.6,1451.8 393.9,1451.8 394.3,1448.9 394.7,1447.4 395.1,1450.6 395.5,1447.3 395.8,1450.7 396.2,1451.8 396.6,1452.4 397.0,1454.4 397.4,1460.9 397.7,1460.5 398.1,1462.2 398.5,1454.7 398.9,1455.9 399.3,1455.7 399.6,1449.1 400.0,1452.7 400.4,1444.7 400.8,1447.6 401.2,1444.6 401.5,1450.0 401.9,1447.4 402.3,1451.5 402.7,1452.0 403.1,1455.9 403.4,1457.5 403.8,1452.9 404.2,1450.4 404.6,1453.0 405.0,1446.1 405.3,1449.8 405.7,1442.8 406.1,1440.1 406.5,1440.8 406.9,1446.9 407.2,1449.2 407.6,1446.0 408.0,1446.3 408.4,1441.9 408.8,1445.0 409.1,1439.6 409.5,1429.7 409.9,1429.4 410.3,1437.8 410.7,1436.9 411.0,1446.4 411.4,1442.6 411.8,1442.2 412.2,1444.7 412.6,1443.5 412.9,1447.5 413.3,1446.8 413.7,1454.6 414.1,1447.6 414.5,1445.2 414.8,1434.2 415.2,1432.8 415.6,1430.1 416.0,1422.0 416.4,1415.7 416.7,1414.7 417.1,1414.3 417.5,1409.0 417.9,1409.1 418.3,1406.0 418.6,1411.0 419.0,1415.1 419.4,1415.3 419.8,1419.9 420.2,1418.8 420.5,1426.6 420.9,1423.4 421.3,1431.0 421.7,1433.2 422.1,1431.3 422.4,1426.8 422.8,1423.6 423.2,1422.5 423.6,1423.8 424.0,1420.5 424.3,1422.8 424.7,1416.4 425.1,1418.9 425.5,1421.7 425.9,1420.6 426.2,1420.9 426.6,1418.2 427.0,1418.2 427.4,1418.7 427.8,1422.9 428.2,1423.7 428.5,1420.4 428.9,1426.5 429.3,1421.2 429.7,1426.5 430.1,1430.3 430.4,1426.7 430.8,1431.8 431.2,1430.4 431.6,1427.1 432.0,1430.7 432.3,1433.1 432.7,1433.4 433.1,1439.6 433.5,1438.2 433.9,1445.2 434.2,1442.9 434.6,1442.4 435.0,1447.0 435.4,1444.8 435.8,1449.2 436.1,1452.1 436.5,1451.8 436.9,1452.0 437.3,1450.1 437.7,1454.5 438.0,1452.3 438.4,1457.0 438.8,1454.1 439.2,1458.0 439.6,1457.2 439.9,1458.1 440.3,1460.6 440.7,1457.4 441.1,1457.8 441.5,1463.7 441.8,1459.7 442.2,1463.8 442.6,1464.4 443.0,1461.9 443.4,1459.9 443.7,1459.9 444.1,1465.9 444.5,1460.8 444.9,1464.0 445.3,1465.5 445.6,1463.6 446.0,1467.2 446.4,1466.2 446.8,1470.0 447.2,1470.9 447.5,1470.8 447.9,1470.4 448.3,1472.6 448.7,1471.9 449.1,1472.1 449.4,1473.7 449.8,1479.0 450.2,1477.1 450.6,1480.7 451.0,1475.1 451.3,1482.1 451.7,1479.3 452.1,1481.8 452.5,1479.6 452.9,1479.7 453.2,1475.6 453.6,1479.1 454.0,1474.8 454.4,1475.6 454.8,1474.5 455.1,1478.2 455.5,1480.3 455.9,1479.7 456.3,1484.8 456.7,1479.7 457.0,1484.0 457.4,1481.9 457.8,1484.9 458.2,1486.6 458.6,1484.9 458.9,1478.7 459.3,1478.5 459.7,1478.0 460.1,1477.0 460.5,1466.4 460.8,1466.7 461.2,1463.5 461.6,1460.6 462.0,1454.0 462.4,1456.2 462.8,1452.5 463.1,1454.7 463.5,1447.0 463.9,1452.6 464.3,1447.6 464.7,1447.7 465.0,1445.8 465.4,1447.3 465.8,1451.9 466.2,1453.0 466.6,1450.7 466.9,1454.6 467.3,1456.9 467.7,1461.1 468.1,1464.6 468.5,1466.9 468.8,1473.1 469.2,1474.8 469.6,1474.1 470.0,1472.6 470.4,1473.5 470.7,1475.4 471.1,1475.9 471.5,1474.4 471.9,1473.4 472.3,1470.3 472.6,1473.3 473.0,1474.8 473.4,1474.0 473.8,1468.6 474.2,1472.9 474.5,1471.0 474.9,1470.4 475.3,1477.0 475.7,1476.3 476.1,1478.4 476.4,1475.5 476.8,1481.5 477.2,1483.0 477.6,1483.5 478.0,1482.5 478.3,1482.8 478.7,1482.2 479.1,1480.2 479.5,1478.3 479.9,1480.3 480.2,1479.4 480.6,1480.4 481.0,1476.7 481.4,1481.8 481.8,1480.5 482.1,1485.4 482.5,1481.3 482.9,1488.3 483.3,1487.4 483.7,1483.9 484.0,1488.1 484.4,1483.4 484.8,1482.7 485.2,1484.3 485.6,1482.7 485.9,1484.6 486.3,1487.6 486.7,1486.0 487.1,1486.1 487.5,1483.9 487.8,1487.0 488.2,1487.5 488.6,1487.0 489.0,1489.3 489.4,1488.8 489.7,1486.2 490.1,1484.5 490.5,1489.3 490.9,1491.4 491.3,1488.6 491.6,1491.1 492.0,1493.6 492.4,1494.1 492.8,1489.2 493.2,1493.4 493.5,1490.8 493.9,1492.5 494.3,1498.7 494.7,1497.0 495.1,1499.0 495.5,1498.4 495.8,1497.9 496.2,1497.4 496.6,1498.9 497.0,1502.8 497.4,1501.7 497.7,1499.8 498.1,1498.7 498.5,1500.5 498.9,1504.0 499.3,1502.1 499.6,1503.7 500.0,1504.8 500.4,1499.8 500.8,1503.8 501.2,1498.2 501.5,1502.8 501.9,1497.2 502.3,1496.8 502.7,1500.8 503.1,1495.7 503.4,1493.9 503.8,1498.0 504.2,1495.2 504.6,1496.5 505.0,1492.4 505.3,1492.6 505.7,1495.4 506.1,1491.7 506.5,1494.6 506.9,1488.4 507.2,1492.5 507.6,1487.1 508.0,1489.3 508.4,1485.0 508.8,1485.5 509.1,1490.3 509.5,1486.0 509.9,1487.8 510.3,1483.0 510.7,1483.0 511.0,1480.4 511.4,1482.9 511.8,1484.4 512.2,1481.1 512.6,1479.4 512.9,1482.6 513.3,1481.6 513.7,1479.7 514.1,1476.2 514.5,1480.9 514.8,1480.4 515.2,1486.0 515.6,1483.6 516.0,1487.7 516.4,1486.7 516.7,1482.6 517.1,1481.3 517.5,1481.1 517.9,1483.9 518.3,1482.1 518.6,1482.3 519.0,1488.2 519.4,1483.1 519.8,1490.2 520.2,1490.0 520.5,1489.5 520.9,1489.1 521.3,1491.6 521.7,1493.0 522.1,1492.2 522.4,1492.8 522.8,1488.3 523.2,1491.2 523.6,1490.6 524.0,1497.1 524.3,1497.1 524.7,1492.3 525.1,1496.0 525.5,1496.4 525.9,1492.5 526.2,1494.0 526.6,1495.5 527.0,1493.7 527.4,1490.1 527.8,1492.6 528.1,1488.2 528.5,1489.0 528.9,1487.1 529.3,1490.1 529.7,1487.1 530.1,1488.4 530.4,1487.8 530.8,1485.9 531.2,1490.3 531.6,1488.8 532.0,1488.9 532.3,1486.2 532.7,1485.6 533.1,1488.8 533.5,1490.5 533.9,1488.8 534.2,1484.0 534.6,1481.0 535.0,1482.8 535.4,1484.7 535.8,1478.8 536.1,1482.7 536.5,1479.0 536.9,1480.4 537.3,1478.9 537.7,1481.5 538.0,1482.8 538.4,1487.8 538.8,1489.1 539.2,1485.0 539.6,1487.4 539.9,1493.2 540.3,1488.6 540.7,1490.3 541.1,1491.9 541.5,1490.3 541.8,1492.1 542.2,1493.8 542.6,1494.8 543.0,1500.1 543.4,1496.2 543.7,1496.2 544.1,1499.7 544.5,1494.9 544.9,1496.2 545.3,1493.6 545.6,1493.4 546.0,1489.0 546.4,1486.9 546.8,1490.5 547.2,1487.6 547.5,1487.9 547.9,1490.6 548.3,1493.1 548.7,1491.6 549.1,1493.5 549.4,1498.7 549.8,1497.0 550.2,1496.2 550.6,1499.5 551.0,1497.6 551.3,1501.9 551.7,1496.2 552.1,1501.3 552.5,1498.9 552.9,1496.9 553.2,1500.6 553.6,1495.4 554.0,1494.8 554.4,1493.2 554.8,1497.5 555.1,1500.5 555.5,1501.5 555.9,1500.7 556.3,1503.8 556.7,1499.1 557.0,1500.7 557.4,1503.4 557.8,1505.7 558.2,1502.3 558.6,1501.7 558.9,1501.3 559.3,1497.5 559.7,1500.7 560.1,1500.1 560.5,1498.0 560.8,1499.1 561.2,1503.1 561.6,1501.0 562.0,1500.9 562.4,1506.6 562.7,1504.4 563.1,1504.6 563.5,1505.9 563.9,1507.9 564.3,1502.6 564.7,1504.3 565.0,1502.6 565.4,1505.4 565.8,1506.2 566.2,1508.7 566.6,1506.6 566.9,1505.2 567.3,1503.2 567.7,1503.6 568.1,1500.6 568.5,1503.7 568.8,1502.3 569.2,1501.7 569.6,1495.7 570.0,1499.1 570.4,1501.2 570.7,1500.9 571.1,1505.2 571.5,1506.8 571.9,1506.9 572.3,1507.8 572.6,1506.9 573.0,1508.9 573.4,1503.6 573.8,1507.0 574.2,1506.3 574.5,1504.9 574.9,1501.8 575.3,1499.9 575.7,1503.4 576.1,1504.6 576.4,1501.0 576.8,1501.3 577.2,1502.1 577.6,1502.0 578.0,1506.2 578.3,1508.4 578.7,1507.1 579.1,1503.7 579.5,1505.4 579.9,1500.1 580.2,1504.9 580.6,1500.7 581.0,1498.0 581.4,1502.1 581.8,1498.2 582.1,1499.8 582.5,1499.0 582.9,1502.5 583.3,1504.1 583.7,1506.7 584.0,1501.9 584.4,1508.3 584.8,1503.7 585.2,1504.9 585.6,1508.2 585.9,1506.5 586.3,1507.2 586.7,1509.6 587.1,1507.9 587.5,1512.7 587.8,1508.9 588.2,1513.8 588.6,1514.0 589.0,1512.4 589.4,1509.1 589.7,1514.9 590.1,1509.9 590.5,1514.0 590.9,1514.1 591.3,1512.3 591.6,1517.1 592.0,1517.4 592.4,1516.0 592.8,1514.3 593.2,1514.5 593.5,1514.3 593.9,1511.0 594.3,1514.8 594.7,1515.2 595.1,1513.5 595.4,1514.2 595.8,1509.3 596.2,1513.7 596.6,1506.7 597.0,1509.2 597.4,1505.7 597.7,1505.7 598.1,1505.1 598.5,1503.0 598.9,1503.9 599.3,1508.4 599.6,1509.6 600.0,1512.6 600.4,1513.3 600.8,1514.1 601.2,1519.1 601.5,1518.7 601.9,1519.3 602.3,1518.7 602.7,1523.5 603.1,1521.0 603.4,1522.6 603.8,1524.7 604.2,1525.3 604.6,1526.9 605.0,1524.9 605.3,1526.0 605.7,1525.4 606.1,1523.6 606.5,1523.2 606.9,1518.1 607.2,1518.7 607.6,1517.0 608.0,1523.2 608.4,1522.6 608.8,1522.3 609.1,1520.1 609.5,1520.7 609.9,1519.3 610.3,1522.7 610.7,1525.0 611.0,1519.3 611.4,1516.7 611.8,1516.9 612.2,1517.2 612.6,1519.9 612.9,1518.1 613.3,1514.5 613.7,1510.4 614.1,1508.9 614.5,1507.7 614.8,1510.3 615.2,1505.0 615.6,1505.7 616.0,1502.1 616.4,1500.5 616.7,1499.0 617.1,1502.2 617.5,1498.0 617.9,1498.6 618.3,1502.6 618.6,1503.0 619.0,1501.3 619.4,1500.8 619.8,1498.4 620.2,1504.0 620.5,1501.4 620.9,1501.6 621.3,1500.3 621.7,1494.9 622.1,1496.5 622.4,1493.6 622.8,1496.3 623.2,1496.4 623.6,1492.4 624.0,1492.7 624.3,1495.3 624.7,1498.2 625.1,1495.9 625.5,1492.5 625.9,1497.7 626.2,1496.3 626.6,1492.8 627.0,1488.6 627.4,1493.6 627.8,1490.3 628.1,1486.2 628.5,1487.3 628.9,1488.7 629.3,1489.8 629.7,1486.2 630.0,1486.5 630.4,1483.8 630.8,1484.8 631.2,1490.3 631.6,1487.3 632.0,1484.9 632.3,1488.0 632.7,1484.3 633.1,1484.1 633.5,1484.8 633.9,1484.6 634.2,1483.8 634.6,1483.2 635.0,1480.2 635.4,1476.3 635.8,1479.9 636.1,1474.3 636.5,1476.6 636.9,1475.3 637.3,1476.4 637.7,1475.5 638.0,1471.0 638.4,1472.8 638.8,1469.9 639.2,1464.0 639.6,1457.3 639.9,1459.0 640.3,1453.0 640.7,1445.8 641.1,1447.9 641.5,1454.0 641.8,1449.3 642.2,1451.3 642.6,1454.9 643.0,1455.9 643.4,1455.3 643.7,1457.7 644.1,1454.5 644.5,1456.8 644.9,1465.0 645.3,1464.9 645.6,1460.5 646.0,1461.7 646.4,1464.6 646.8,1471.4 647.2,1468.2 647.5,1474.9 647.9,1482.2 648.3,1485.5" fill="none" stroke="#ff0000" stroke-width="1.9" stroke-linejoin="round" stroke-dasharray="4.5,2.5"/>
</svg></body></html>
